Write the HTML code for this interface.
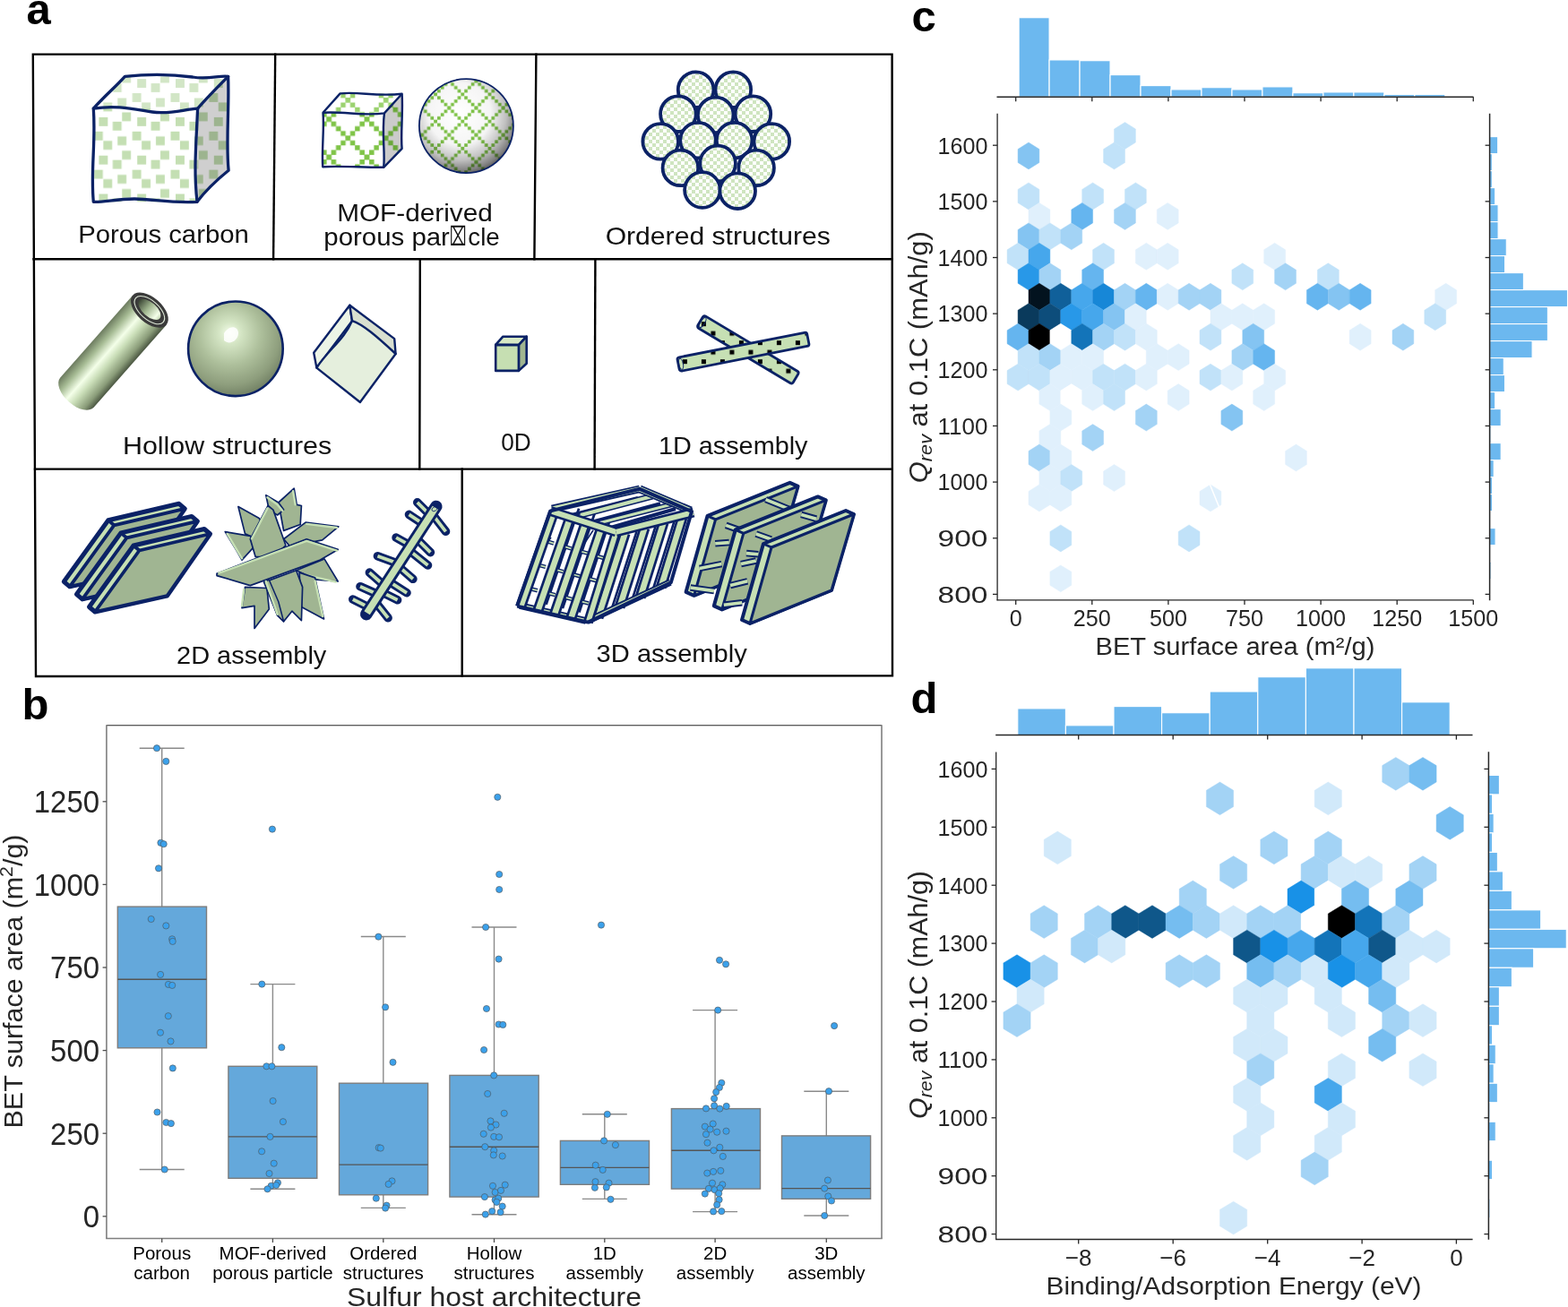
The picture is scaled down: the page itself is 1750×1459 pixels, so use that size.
<!DOCTYPE html>
<html><head><meta charset="utf-8"><title>Sulfur host architecture</title>
<style>html,body{margin:0;padding:0;background:#fff;}svg{display:block;}</style>
</head><body>
<svg width="1750" height="1459" viewBox="0 0 1750 1459" font-family="'Liberation Sans', Arial, sans-serif">
<rect width="1750" height="1459" fill="#ffffff"/>
<text x="29.5" y="26.5" font-size="49" font-weight="bold" fill="#000">a</text>
<text x="24.5" y="803" font-size="49" font-weight="bold" fill="#000">b</text>
<text x="1017.5" y="34.5" font-size="49" font-weight="bold" fill="#000">c</text>
<text x="1016.5" y="796" font-size="49" font-weight="bold" fill="#000">d</text>
<rect x="1137.10" y="19.70" width="33.98" height="88.50" fill="#6cb8ef" stroke="#fff" stroke-width="1.1"/>
<rect x="1171.08" y="66.90" width="33.98" height="41.30" fill="#6cb8ef" stroke="#fff" stroke-width="1.1"/>
<rect x="1205.06" y="67.70" width="33.98" height="40.50" fill="#6cb8ef" stroke="#fff" stroke-width="1.1"/>
<rect x="1239.04" y="83.60" width="33.98" height="24.60" fill="#6cb8ef" stroke="#fff" stroke-width="1.1"/>
<rect x="1273.02" y="95.60" width="33.98" height="12.60" fill="#6cb8ef" stroke="#fff" stroke-width="1.1"/>
<rect x="1307.00" y="99.90" width="33.98" height="8.30" fill="#6cb8ef" stroke="#fff" stroke-width="1.1"/>
<rect x="1340.98" y="97.70" width="33.98" height="10.50" fill="#6cb8ef" stroke="#fff" stroke-width="1.1"/>
<rect x="1374.96" y="99.90" width="33.98" height="8.30" fill="#6cb8ef" stroke="#fff" stroke-width="1.1"/>
<rect x="1408.94" y="96.90" width="33.98" height="11.30" fill="#6cb8ef" stroke="#fff" stroke-width="1.1"/>
<rect x="1442.92" y="103.70" width="33.98" height="4.50" fill="#6cb8ef" stroke="#fff" stroke-width="1.1"/>
<rect x="1476.90" y="102.90" width="33.98" height="5.30" fill="#6cb8ef" stroke="#fff" stroke-width="1.1"/>
<rect x="1510.88" y="102.90" width="33.98" height="5.30" fill="#6cb8ef" stroke="#fff" stroke-width="1.1"/>
<rect x="1544.86" y="105.40" width="33.98" height="2.80" fill="#6cb8ef" stroke="#fff" stroke-width="1.1"/>
<rect x="1578.84" y="105.40" width="33.98" height="2.80" fill="#6cb8ef" stroke="#fff" stroke-width="1.1"/>
<line x1="1112.5" y1="108.2" x2="1644.5" y2="108.2" stroke="#262626" stroke-width="1.5"/>
<line x1="1133.7" y1="108.2" x2="1133.7" y2="113.2" stroke="#262626" stroke-width="1.3"/>
<line x1="1218.8" y1="108.2" x2="1218.8" y2="113.2" stroke="#262626" stroke-width="1.3"/>
<line x1="1303.9" y1="108.2" x2="1303.9" y2="113.2" stroke="#262626" stroke-width="1.3"/>
<line x1="1389.0" y1="108.2" x2="1389.0" y2="113.2" stroke="#262626" stroke-width="1.3"/>
<line x1="1474.1" y1="108.2" x2="1474.1" y2="113.2" stroke="#262626" stroke-width="1.3"/>
<line x1="1559.2" y1="108.2" x2="1559.2" y2="113.2" stroke="#262626" stroke-width="1.3"/>
<line x1="1644.3" y1="108.2" x2="1644.3" y2="113.2" stroke="#262626" stroke-width="1.3"/>
<rect x="1662.6" y="152.60" width="9.10" height="19.00" fill="#6cb8ef" stroke="#fff" stroke-width="1.1"/>
<rect x="1662.6" y="171.60" width="2.80" height="19.00" fill="#6cb8ef" stroke="#fff" stroke-width="1.1"/>
<rect x="1662.6" y="190.60" width="2.80" height="19.00" fill="#6cb8ef" stroke="#fff" stroke-width="1.1"/>
<rect x="1662.6" y="209.60" width="6.10" height="19.00" fill="#6cb8ef" stroke="#fff" stroke-width="1.1"/>
<rect x="1662.6" y="228.60" width="9.50" height="19.00" fill="#6cb8ef" stroke="#fff" stroke-width="1.1"/>
<rect x="1662.6" y="247.60" width="9.50" height="19.00" fill="#6cb8ef" stroke="#fff" stroke-width="1.1"/>
<rect x="1662.6" y="266.60" width="18.70" height="19.00" fill="#6cb8ef" stroke="#fff" stroke-width="1.1"/>
<rect x="1662.6" y="285.60" width="17.00" height="19.00" fill="#6cb8ef" stroke="#fff" stroke-width="1.1"/>
<rect x="1662.6" y="304.60" width="37.80" height="19.00" fill="#6cb8ef" stroke="#fff" stroke-width="1.1"/>
<rect x="1662.6" y="323.60" width="86.90" height="19.00" fill="#6cb8ef" stroke="#fff" stroke-width="1.1"/>
<rect x="1662.6" y="342.60" width="64.80" height="19.00" fill="#6cb8ef" stroke="#fff" stroke-width="1.1"/>
<rect x="1662.6" y="361.60" width="64.80" height="19.00" fill="#6cb8ef" stroke="#fff" stroke-width="1.1"/>
<rect x="1662.6" y="380.60" width="47.50" height="19.00" fill="#6cb8ef" stroke="#fff" stroke-width="1.1"/>
<rect x="1662.6" y="399.60" width="15.70" height="19.00" fill="#6cb8ef" stroke="#fff" stroke-width="1.1"/>
<rect x="1662.6" y="418.60" width="16.90" height="19.00" fill="#6cb8ef" stroke="#fff" stroke-width="1.1"/>
<rect x="1662.6" y="437.60" width="6.10" height="19.00" fill="#6cb8ef" stroke="#fff" stroke-width="1.1"/>
<rect x="1662.6" y="456.60" width="12.60" height="19.00" fill="#6cb8ef" stroke="#fff" stroke-width="1.1"/>
<rect x="1662.6" y="475.60" width="1.30" height="19.00" fill="#6cb8ef" stroke="#fff" stroke-width="1.1"/>
<rect x="1662.6" y="494.60" width="12.60" height="19.00" fill="#6cb8ef" stroke="#fff" stroke-width="1.1"/>
<rect x="1662.6" y="513.60" width="4.60" height="19.00" fill="#6cb8ef" stroke="#fff" stroke-width="1.1"/>
<rect x="1662.6" y="532.60" width="3.00" height="19.00" fill="#6cb8ef" stroke="#fff" stroke-width="1.1"/>
<rect x="1662.6" y="551.60" width="3.00" height="19.00" fill="#6cb8ef" stroke="#fff" stroke-width="1.1"/>
<rect x="1662.6" y="589.60" width="6.50" height="19.00" fill="#6cb8ef" stroke="#fff" stroke-width="1.1"/>
<rect x="1662.6" y="627.60" width="1.40" height="19.00" fill="#6cb8ef" stroke="#fff" stroke-width="1.1"/>
<line x1="1662.6" y1="126.7" x2="1662.6" y2="670.3" stroke="#262626" stroke-width="1.5"/>
<line x1="1657.6" y1="162.2" x2="1662.6" y2="162.2" stroke="#262626" stroke-width="1.3"/>
<line x1="1657.6" y1="224.85" x2="1662.6" y2="224.85" stroke="#262626" stroke-width="1.3"/>
<line x1="1657.6" y1="287.5" x2="1662.6" y2="287.5" stroke="#262626" stroke-width="1.3"/>
<line x1="1657.6" y1="350.15" x2="1662.6" y2="350.15" stroke="#262626" stroke-width="1.3"/>
<line x1="1657.6" y1="412.79999999999995" x2="1662.6" y2="412.79999999999995" stroke="#262626" stroke-width="1.3"/>
<line x1="1657.6" y1="475.45" x2="1662.6" y2="475.45" stroke="#262626" stroke-width="1.3"/>
<line x1="1657.6" y1="538.0999999999999" x2="1662.6" y2="538.0999999999999" stroke="#262626" stroke-width="1.3"/>
<line x1="1657.6" y1="600.75" x2="1662.6" y2="600.75" stroke="#262626" stroke-width="1.3"/>
<line x1="1657.6" y1="663.4" x2="1662.6" y2="663.4" stroke="#262626" stroke-width="1.3"/>
<polygon points="1255.5,136.5 1267.4,144.0 1267.4,159.0 1255.5,166.5 1243.5,159.0 1243.5,144.0" fill="#c1e2f9" stroke="#c1e2f9" stroke-width="0.45"/>
<polygon points="1148.0,159.0 1159.9,166.5 1159.9,181.5 1148.0,188.9 1136.1,181.5 1136.1,166.5" fill="#84c4f2" stroke="#84c4f2" stroke-width="0.45"/>
<polygon points="1243.5,159.0 1255.5,166.5 1255.5,181.5 1243.5,188.9 1231.6,181.5 1231.6,166.5" fill="#c1e2f9" stroke="#c1e2f9" stroke-width="0.45"/>
<polygon points="1148.0,203.9 1159.9,211.4 1159.9,226.4 1148.0,233.9 1136.1,226.4 1136.1,211.4" fill="#c1e2f9" stroke="#c1e2f9" stroke-width="0.45"/>
<polygon points="1219.6,203.9 1231.6,211.4 1231.6,226.4 1219.6,233.9 1207.7,226.4 1207.7,211.4" fill="#c1e2f9" stroke="#c1e2f9" stroke-width="0.45"/>
<polygon points="1267.4,203.9 1279.3,211.4 1279.3,226.4 1267.4,233.9 1255.5,226.4 1255.5,211.4" fill="#c1e2f9" stroke="#c1e2f9" stroke-width="0.45"/>
<polygon points="1159.9,226.4 1171.9,233.9 1171.9,248.9 1159.9,256.4 1148.0,248.9 1148.0,233.9" fill="#e0f0fc" stroke="#e0f0fc" stroke-width="0.45"/>
<polygon points="1207.7,226.4 1219.6,233.9 1219.6,248.9 1207.7,256.4 1195.8,248.9 1195.8,233.9" fill="#65b5ef" stroke="#65b5ef" stroke-width="0.45"/>
<polygon points="1255.5,226.4 1267.4,233.9 1267.4,248.9 1255.5,256.4 1243.5,248.9 1243.5,233.9" fill="#a3d3f5" stroke="#a3d3f5" stroke-width="0.45"/>
<polygon points="1303.2,226.4 1315.2,233.9 1315.2,248.9 1303.2,256.4 1291.3,248.9 1291.3,233.9" fill="#e0f0fc" stroke="#e0f0fc" stroke-width="0.45"/>
<polygon points="1148.0,248.9 1159.9,256.4 1159.9,271.3 1148.0,278.8 1136.1,271.3 1136.1,256.4" fill="#84c4f2" stroke="#84c4f2" stroke-width="0.45"/>
<polygon points="1171.9,248.9 1183.8,256.4 1183.8,271.3 1171.9,278.8 1159.9,271.3 1159.9,256.4" fill="#c1e2f9" stroke="#c1e2f9" stroke-width="0.45"/>
<polygon points="1195.8,248.9 1207.7,256.4 1207.7,271.3 1195.8,278.8 1183.8,271.3 1183.8,256.4" fill="#a3d3f5" stroke="#a3d3f5" stroke-width="0.45"/>
<polygon points="1136.1,271.3 1148.0,278.8 1148.0,293.8 1136.1,301.3 1124.1,293.8 1124.1,278.8" fill="#c1e2f9" stroke="#c1e2f9" stroke-width="0.45"/>
<polygon points="1159.9,271.3 1171.9,278.8 1171.9,293.8 1159.9,301.3 1148.0,293.8 1148.0,278.8" fill="#46a7ec" stroke="#46a7ec" stroke-width="0.45"/>
<polygon points="1231.6,271.3 1243.5,278.8 1243.5,293.8 1231.6,301.3 1219.6,293.8 1219.6,278.8" fill="#c1e2f9" stroke="#c1e2f9" stroke-width="0.45"/>
<polygon points="1279.3,271.3 1291.3,278.8 1291.3,293.8 1279.3,301.3 1267.4,293.8 1267.4,278.8" fill="#e0f0fc" stroke="#e0f0fc" stroke-width="0.45"/>
<polygon points="1303.2,271.3 1315.2,278.8 1315.2,293.8 1303.2,301.3 1291.3,293.8 1291.3,278.8" fill="#e0f0fc" stroke="#e0f0fc" stroke-width="0.45"/>
<polygon points="1422.6,271.3 1434.6,278.8 1434.6,293.8 1422.6,301.3 1410.7,293.8 1410.7,278.8" fill="#e0f0fc" stroke="#e0f0fc" stroke-width="0.45"/>
<polygon points="1148.0,293.8 1159.9,301.3 1159.9,316.3 1148.0,323.8 1136.1,316.3 1136.1,301.3" fill="#2898e8" stroke="#2898e8" stroke-width="0.45"/>
<polygon points="1171.9,293.8 1183.8,301.3 1183.8,316.3 1171.9,323.8 1159.9,316.3 1159.9,301.3" fill="#a3d3f5" stroke="#a3d3f5" stroke-width="0.45"/>
<polygon points="1219.6,293.8 1231.6,301.3 1231.6,316.3 1219.6,323.8 1207.7,316.3 1207.7,301.3" fill="#65b5ef" stroke="#65b5ef" stroke-width="0.45"/>
<polygon points="1386.8,293.8 1398.7,301.3 1398.7,316.3 1386.8,323.8 1374.9,316.3 1374.9,301.3" fill="#c1e2f9" stroke="#c1e2f9" stroke-width="0.45"/>
<polygon points="1434.6,293.8 1446.5,301.3 1446.5,316.3 1434.6,323.8 1422.6,316.3 1422.6,301.3" fill="#a3d3f5" stroke="#a3d3f5" stroke-width="0.45"/>
<polygon points="1482.3,293.8 1494.3,301.3 1494.3,316.3 1482.3,323.8 1470.4,316.3 1470.4,301.3" fill="#c1e2f9" stroke="#c1e2f9" stroke-width="0.45"/>
<polygon points="1159.9,316.3 1171.9,323.8 1171.9,338.8 1159.9,346.2 1148.0,338.8 1148.0,323.8" fill="#03131f" stroke="#03131f" stroke-width="0.45"/>
<polygon points="1183.8,316.3 1195.8,323.8 1195.8,338.8 1183.8,346.2 1171.9,338.8 1171.9,323.8" fill="#10609a" stroke="#10609a" stroke-width="0.45"/>
<polygon points="1207.7,316.3 1219.6,323.8 1219.6,338.8 1207.7,346.2 1195.8,338.8 1195.8,323.8" fill="#46a7ec" stroke="#46a7ec" stroke-width="0.45"/>
<polygon points="1231.6,316.3 1243.5,323.8 1243.5,338.8 1231.6,346.2 1219.6,338.8 1219.6,323.8" fill="#1787d7" stroke="#1787d7" stroke-width="0.45"/>
<polygon points="1255.5,316.3 1267.4,323.8 1267.4,338.8 1255.5,346.2 1243.5,338.8 1243.5,323.8" fill="#a3d3f5" stroke="#a3d3f5" stroke-width="0.45"/>
<polygon points="1279.3,316.3 1291.3,323.8 1291.3,338.8 1279.3,346.2 1267.4,338.8 1267.4,323.8" fill="#65b5ef" stroke="#65b5ef" stroke-width="0.45"/>
<polygon points="1303.2,316.3 1315.2,323.8 1315.2,338.8 1303.2,346.2 1291.3,338.8 1291.3,323.8" fill="#e0f0fc" stroke="#e0f0fc" stroke-width="0.45"/>
<polygon points="1327.1,316.3 1339.0,323.8 1339.0,338.8 1327.1,346.2 1315.2,338.8 1315.2,323.8" fill="#a3d3f5" stroke="#a3d3f5" stroke-width="0.45"/>
<polygon points="1351.0,316.3 1362.9,323.8 1362.9,338.8 1351.0,346.2 1339.0,338.8 1339.0,323.8" fill="#a3d3f5" stroke="#a3d3f5" stroke-width="0.45"/>
<polygon points="1470.4,316.3 1482.3,323.8 1482.3,338.8 1470.4,346.2 1458.4,338.8 1458.4,323.8" fill="#65b5ef" stroke="#65b5ef" stroke-width="0.45"/>
<polygon points="1494.3,316.3 1506.2,323.8 1506.2,338.8 1494.3,346.2 1482.3,338.8 1482.3,323.8" fill="#84c4f2" stroke="#84c4f2" stroke-width="0.45"/>
<polygon points="1518.1,316.3 1530.1,323.8 1530.1,338.8 1518.1,346.2 1506.2,338.8 1506.2,323.8" fill="#65b5ef" stroke="#65b5ef" stroke-width="0.45"/>
<polygon points="1613.7,316.3 1625.6,323.8 1625.6,338.8 1613.7,346.2 1601.7,338.8 1601.7,323.8" fill="#e0f0fc" stroke="#e0f0fc" stroke-width="0.45"/>
<polygon points="1148.0,338.8 1159.9,346.2 1159.9,361.2 1148.0,368.7 1136.1,361.2 1136.1,346.2" fill="#0a3a5c" stroke="#0a3a5c" stroke-width="0.45"/>
<polygon points="1171.9,338.8 1183.8,346.2 1183.8,361.2 1171.9,368.7 1159.9,361.2 1159.9,346.2" fill="#0d4d7b" stroke="#0d4d7b" stroke-width="0.45"/>
<polygon points="1195.8,338.8 1207.7,346.2 1207.7,361.2 1195.8,368.7 1183.8,361.2 1183.8,346.2" fill="#2898e8" stroke="#2898e8" stroke-width="0.45"/>
<polygon points="1219.6,338.8 1231.6,346.2 1231.6,361.2 1219.6,368.7 1207.7,361.2 1207.7,346.2" fill="#46a7ec" stroke="#46a7ec" stroke-width="0.45"/>
<polygon points="1243.5,338.8 1255.5,346.2 1255.5,361.2 1243.5,368.7 1231.6,361.2 1231.6,346.2" fill="#84c4f2" stroke="#84c4f2" stroke-width="0.45"/>
<polygon points="1267.4,338.8 1279.3,346.2 1279.3,361.2 1267.4,368.7 1255.5,361.2 1255.5,346.2" fill="#e0f0fc" stroke="#e0f0fc" stroke-width="0.45"/>
<polygon points="1362.9,338.8 1374.9,346.2 1374.9,361.2 1362.9,368.7 1351.0,361.2 1351.0,346.2" fill="#e0f0fc" stroke="#e0f0fc" stroke-width="0.45"/>
<polygon points="1386.8,338.8 1398.7,346.2 1398.7,361.2 1386.8,368.7 1374.9,361.2 1374.9,346.2" fill="#e0f0fc" stroke="#e0f0fc" stroke-width="0.45"/>
<polygon points="1410.7,338.8 1422.6,346.2 1422.6,361.2 1410.7,368.7 1398.7,361.2 1398.7,346.2" fill="#e0f0fc" stroke="#e0f0fc" stroke-width="0.45"/>
<polygon points="1601.7,338.8 1613.7,346.2 1613.7,361.2 1601.7,368.7 1589.8,361.2 1589.8,346.2" fill="#c1e2f9" stroke="#c1e2f9" stroke-width="0.45"/>
<polygon points="1136.1,361.2 1148.0,368.7 1148.0,383.7 1136.1,391.2 1124.1,383.7 1124.1,368.7" fill="#65b5ef" stroke="#65b5ef" stroke-width="0.45"/>
<polygon points="1159.9,361.2 1171.9,368.7 1171.9,383.7 1159.9,391.2 1148.0,383.7 1148.0,368.7" fill="#000000" stroke="#000000" stroke-width="0.45"/>
<polygon points="1183.8,361.2 1195.8,368.7 1195.8,383.7 1183.8,391.2 1171.9,383.7 1171.9,368.7" fill="#ffffff" stroke="#ffffff" stroke-width="0.45"/>
<polygon points="1207.7,361.2 1219.6,368.7 1219.6,383.7 1207.7,391.2 1195.8,383.7 1195.8,368.7" fill="#1374b9" stroke="#1374b9" stroke-width="0.45"/>
<polygon points="1231.6,361.2 1243.5,368.7 1243.5,383.7 1231.6,391.2 1219.6,383.7 1219.6,368.7" fill="#a3d3f5" stroke="#a3d3f5" stroke-width="0.45"/>
<polygon points="1255.5,361.2 1267.4,368.7 1267.4,383.7 1255.5,391.2 1243.5,383.7 1243.5,368.7" fill="#c1e2f9" stroke="#c1e2f9" stroke-width="0.45"/>
<polygon points="1279.3,361.2 1291.3,368.7 1291.3,383.7 1279.3,391.2 1267.4,383.7 1267.4,368.7" fill="#e0f0fc" stroke="#e0f0fc" stroke-width="0.45"/>
<polygon points="1351.0,361.2 1362.9,368.7 1362.9,383.7 1351.0,391.2 1339.0,383.7 1339.0,368.7" fill="#c1e2f9" stroke="#c1e2f9" stroke-width="0.45"/>
<polygon points="1398.7,361.2 1410.7,368.7 1410.7,383.7 1398.7,391.2 1386.8,383.7 1386.8,368.7" fill="#84c4f2" stroke="#84c4f2" stroke-width="0.45"/>
<polygon points="1518.1,361.2 1530.1,368.7 1530.1,383.7 1518.1,391.2 1506.2,383.7 1506.2,368.7" fill="#e0f0fc" stroke="#e0f0fc" stroke-width="0.45"/>
<polygon points="1565.9,361.2 1577.8,368.7 1577.8,383.7 1565.9,391.2 1554.0,383.7 1554.0,368.7" fill="#a3d3f5" stroke="#a3d3f5" stroke-width="0.45"/>
<polygon points="1148.0,383.7 1159.9,391.2 1159.9,406.2 1148.0,413.6 1136.1,406.2 1136.1,391.2" fill="#c1e2f9" stroke="#c1e2f9" stroke-width="0.45"/>
<polygon points="1171.9,383.7 1183.8,391.2 1183.8,406.2 1171.9,413.6 1159.9,406.2 1159.9,391.2" fill="#a3d3f5" stroke="#a3d3f5" stroke-width="0.45"/>
<polygon points="1195.8,383.7 1207.7,391.2 1207.7,406.2 1195.8,413.6 1183.8,406.2 1183.8,391.2" fill="#e0f0fc" stroke="#e0f0fc" stroke-width="0.45"/>
<polygon points="1219.6,383.7 1231.6,391.2 1231.6,406.2 1219.6,413.6 1207.7,406.2 1207.7,391.2" fill="#e0f0fc" stroke="#e0f0fc" stroke-width="0.45"/>
<polygon points="1291.3,383.7 1303.2,391.2 1303.2,406.2 1291.3,413.6 1279.3,406.2 1279.3,391.2" fill="#e0f0fc" stroke="#e0f0fc" stroke-width="0.45"/>
<polygon points="1315.2,383.7 1327.1,391.2 1327.1,406.2 1315.2,413.6 1303.2,406.2 1303.2,391.2" fill="#e0f0fc" stroke="#e0f0fc" stroke-width="0.45"/>
<polygon points="1386.8,383.7 1398.7,391.2 1398.7,406.2 1386.8,413.6 1374.9,406.2 1374.9,391.2" fill="#a3d3f5" stroke="#a3d3f5" stroke-width="0.45"/>
<polygon points="1410.7,383.7 1422.6,391.2 1422.6,406.2 1410.7,413.6 1398.7,406.2 1398.7,391.2" fill="#65b5ef" stroke="#65b5ef" stroke-width="0.45"/>
<polygon points="1136.1,406.2 1148.0,413.6 1148.0,428.6 1136.1,436.1 1124.1,428.6 1124.1,413.6" fill="#c1e2f9" stroke="#c1e2f9" stroke-width="0.45"/>
<polygon points="1159.9,406.2 1171.9,413.6 1171.9,428.6 1159.9,436.1 1148.0,428.6 1148.0,413.6" fill="#c1e2f9" stroke="#c1e2f9" stroke-width="0.45"/>
<polygon points="1183.8,406.2 1195.8,413.6 1195.8,428.6 1183.8,436.1 1171.9,428.6 1171.9,413.6" fill="#e0f0fc" stroke="#e0f0fc" stroke-width="0.45"/>
<polygon points="1207.7,406.2 1219.6,413.6 1219.6,428.6 1207.7,436.1 1195.8,428.6 1195.8,413.6" fill="#e0f0fc" stroke="#e0f0fc" stroke-width="0.45"/>
<polygon points="1231.6,406.2 1243.5,413.6 1243.5,428.6 1231.6,436.1 1219.6,428.6 1219.6,413.6" fill="#c1e2f9" stroke="#c1e2f9" stroke-width="0.45"/>
<polygon points="1255.5,406.2 1267.4,413.6 1267.4,428.6 1255.5,436.1 1243.5,428.6 1243.5,413.6" fill="#c1e2f9" stroke="#c1e2f9" stroke-width="0.45"/>
<polygon points="1279.3,406.2 1291.3,413.6 1291.3,428.6 1279.3,436.1 1267.4,428.6 1267.4,413.6" fill="#e0f0fc" stroke="#e0f0fc" stroke-width="0.45"/>
<polygon points="1351.0,406.2 1362.9,413.6 1362.9,428.6 1351.0,436.1 1339.0,428.6 1339.0,413.6" fill="#c1e2f9" stroke="#c1e2f9" stroke-width="0.45"/>
<polygon points="1374.9,406.2 1386.8,413.6 1386.8,428.6 1374.9,436.1 1362.9,428.6 1362.9,413.6" fill="#e0f0fc" stroke="#e0f0fc" stroke-width="0.45"/>
<polygon points="1422.6,406.2 1434.6,413.6 1434.6,428.6 1422.6,436.1 1410.7,428.6 1410.7,413.6" fill="#e0f0fc" stroke="#e0f0fc" stroke-width="0.45"/>
<polygon points="1171.9,428.6 1183.8,436.1 1183.8,451.1 1171.9,458.6 1159.9,451.1 1159.9,436.1" fill="#e0f0fc" stroke="#e0f0fc" stroke-width="0.45"/>
<polygon points="1195.8,428.6 1207.7,436.1 1207.7,451.1 1195.8,458.6 1183.8,451.1 1183.8,436.1" fill="#ffffff" stroke="#ffffff" stroke-width="0.45"/>
<polygon points="1219.6,428.6 1231.6,436.1 1231.6,451.1 1219.6,458.6 1207.7,451.1 1207.7,436.1" fill="#e0f0fc" stroke="#e0f0fc" stroke-width="0.45"/>
<polygon points="1243.5,428.6 1255.5,436.1 1255.5,451.1 1243.5,458.6 1231.6,451.1 1231.6,436.1" fill="#c1e2f9" stroke="#c1e2f9" stroke-width="0.45"/>
<polygon points="1315.2,428.6 1327.1,436.1 1327.1,451.1 1315.2,458.6 1303.2,451.1 1303.2,436.1" fill="#e0f0fc" stroke="#e0f0fc" stroke-width="0.45"/>
<polygon points="1410.7,428.6 1422.6,436.1 1422.6,451.1 1410.7,458.6 1398.7,451.1 1398.7,436.1" fill="#e0f0fc" stroke="#e0f0fc" stroke-width="0.45"/>
<polygon points="1183.8,451.1 1195.8,458.6 1195.8,473.6 1183.8,481.1 1171.9,473.6 1171.9,458.6" fill="#e0f0fc" stroke="#e0f0fc" stroke-width="0.45"/>
<polygon points="1279.3,451.1 1291.3,458.6 1291.3,473.6 1279.3,481.1 1267.4,473.6 1267.4,458.6" fill="#a3d3f5" stroke="#a3d3f5" stroke-width="0.45"/>
<polygon points="1374.9,451.1 1386.8,458.6 1386.8,473.6 1374.9,481.1 1362.9,473.6 1362.9,458.6" fill="#84c4f2" stroke="#84c4f2" stroke-width="0.45"/>
<polygon points="1171.9,473.6 1183.8,481.1 1183.8,496.0 1171.9,503.5 1159.9,496.0 1159.9,481.1" fill="#e0f0fc" stroke="#e0f0fc" stroke-width="0.45"/>
<polygon points="1219.6,473.6 1231.6,481.1 1231.6,496.0 1219.6,503.5 1207.7,496.0 1207.7,481.1" fill="#a3d3f5" stroke="#a3d3f5" stroke-width="0.45"/>
<polygon points="1159.9,496.0 1171.9,503.5 1171.9,518.5 1159.9,526.0 1148.0,518.5 1148.0,503.5" fill="#a3d3f5" stroke="#a3d3f5" stroke-width="0.45"/>
<polygon points="1183.8,496.0 1195.8,503.5 1195.8,518.5 1183.8,526.0 1171.9,518.5 1171.9,503.5" fill="#e0f0fc" stroke="#e0f0fc" stroke-width="0.45"/>
<polygon points="1446.5,496.0 1458.4,503.5 1458.4,518.5 1446.5,526.0 1434.6,518.5 1434.6,503.5" fill="#e0f0fc" stroke="#e0f0fc" stroke-width="0.45"/>
<polygon points="1171.9,518.5 1183.8,526.0 1183.8,541.0 1171.9,548.5 1159.9,541.0 1159.9,526.0" fill="#e0f0fc" stroke="#e0f0fc" stroke-width="0.45"/>
<polygon points="1195.8,518.5 1207.7,526.0 1207.7,541.0 1195.8,548.5 1183.8,541.0 1183.8,526.0" fill="#c1e2f9" stroke="#c1e2f9" stroke-width="0.45"/>
<polygon points="1243.5,518.5 1255.5,526.0 1255.5,541.0 1243.5,548.5 1231.6,541.0 1231.6,526.0" fill="#e0f0fc" stroke="#e0f0fc" stroke-width="0.45"/>
<polygon points="1159.9,541.0 1171.9,548.5 1171.9,563.5 1159.9,570.9 1148.0,563.5 1148.0,548.5" fill="#e0f0fc" stroke="#e0f0fc" stroke-width="0.45"/>
<polygon points="1183.8,541.0 1195.8,548.5 1195.8,563.5 1183.8,570.9 1171.9,563.5 1171.9,548.5" fill="#e0f0fc" stroke="#e0f0fc" stroke-width="0.45"/>
<polygon points="1351.0,541.0 1362.9,548.5 1362.9,563.5 1351.0,570.9 1339.0,563.5 1339.0,548.5" fill="#e0f0fc" stroke="#e0f0fc" stroke-width="0.45"/>
<polygon points="1183.8,585.9 1195.8,593.4 1195.8,608.4 1183.8,615.9 1171.9,608.4 1171.9,593.4" fill="#c1e2f9" stroke="#c1e2f9" stroke-width="0.45"/>
<polygon points="1327.1,585.9 1339.0,593.4 1339.0,608.4 1327.1,615.9 1315.2,608.4 1315.2,593.4" fill="#c1e2f9" stroke="#c1e2f9" stroke-width="0.45"/>
<polygon points="1183.8,630.9 1195.8,638.3 1195.8,653.3 1183.8,660.8 1171.9,653.3 1171.9,638.3" fill="#e0f0fc" stroke="#e0f0fc" stroke-width="0.45"/>
<line x1="1350.2" y1="540.5" x2="1360.6" y2="566" stroke="#ffffff" stroke-width="1.5"/>
<line x1="1113.1" y1="126.7" x2="1113.1" y2="670.3" stroke="#262626" stroke-width="1.3"/>
<line x1="1112.5" y1="669.9" x2="1644.5" y2="669.9" stroke="#262626" stroke-width="1.3"/>
<line x1="1108" y1="162.2" x2="1113.1" y2="162.2" stroke="#262626" stroke-width="1.3"/>
<text x="1102.5" y="171.5" font-size="26" text-anchor="end" textLength="55.9" lengthAdjust="spacingAndGlyphs" fill="#262626">1600</text>
<line x1="1108" y1="224.85" x2="1113.1" y2="224.85" stroke="#262626" stroke-width="1.3"/>
<text x="1102.5" y="234.15" font-size="26" text-anchor="end" textLength="55.9" lengthAdjust="spacingAndGlyphs" fill="#262626">1500</text>
<line x1="1108" y1="287.5" x2="1113.1" y2="287.5" stroke="#262626" stroke-width="1.3"/>
<text x="1102.5" y="296.8" font-size="26" text-anchor="end" textLength="55.9" lengthAdjust="spacingAndGlyphs" fill="#262626">1400</text>
<line x1="1108" y1="350.15" x2="1113.1" y2="350.15" stroke="#262626" stroke-width="1.3"/>
<text x="1102.5" y="359.45" font-size="26" text-anchor="end" textLength="55.9" lengthAdjust="spacingAndGlyphs" fill="#262626">1300</text>
<line x1="1108" y1="412.79999999999995" x2="1113.1" y2="412.79999999999995" stroke="#262626" stroke-width="1.3"/>
<text x="1102.5" y="422.09999999999997" font-size="26" text-anchor="end" textLength="55.9" lengthAdjust="spacingAndGlyphs" fill="#262626">1200</text>
<line x1="1108" y1="475.45" x2="1113.1" y2="475.45" stroke="#262626" stroke-width="1.3"/>
<text x="1102.5" y="484.75" font-size="26" text-anchor="end" textLength="55.9" lengthAdjust="spacingAndGlyphs" fill="#262626">1100</text>
<line x1="1108" y1="538.0999999999999" x2="1113.1" y2="538.0999999999999" stroke="#262626" stroke-width="1.3"/>
<text x="1102.5" y="547.3999999999999" font-size="26" text-anchor="end" textLength="55.9" lengthAdjust="spacingAndGlyphs" fill="#262626">1000</text>
<line x1="1108" y1="600.75" x2="1113.1" y2="600.75" stroke="#262626" stroke-width="1.3"/>
<text x="1102.5" y="610.05" font-size="26" text-anchor="end" textLength="55.9" lengthAdjust="spacingAndGlyphs" fill="#262626">900</text>
<line x1="1108" y1="663.4" x2="1113.1" y2="663.4" stroke="#262626" stroke-width="1.3"/>
<text x="1102.5" y="672.6999999999999" font-size="26" text-anchor="end" textLength="55.9" lengthAdjust="spacingAndGlyphs" fill="#262626">800</text>
<line x1="1133.7" y1="669.9" x2="1133.7" y2="675" stroke="#262626" stroke-width="1.3"/>
<text x="1133.7" y="698.9" font-size="26" text-anchor="middle" textLength="14.0" lengthAdjust="spacingAndGlyphs" fill="#262626">0</text>
<line x1="1218.8" y1="669.9" x2="1218.8" y2="675" stroke="#262626" stroke-width="1.3"/>
<text x="1218.8" y="698.9" font-size="26" text-anchor="middle" textLength="42.0" lengthAdjust="spacingAndGlyphs" fill="#262626">250</text>
<line x1="1303.9" y1="669.9" x2="1303.9" y2="675" stroke="#262626" stroke-width="1.3"/>
<text x="1303.9" y="698.9" font-size="26" text-anchor="middle" textLength="42.0" lengthAdjust="spacingAndGlyphs" fill="#262626">500</text>
<line x1="1389.0" y1="669.9" x2="1389.0" y2="675" stroke="#262626" stroke-width="1.3"/>
<text x="1389.0" y="698.9" font-size="26" text-anchor="middle" textLength="42.0" lengthAdjust="spacingAndGlyphs" fill="#262626">750</text>
<line x1="1474.1" y1="669.9" x2="1474.1" y2="675" stroke="#262626" stroke-width="1.3"/>
<text x="1474.1" y="698.9" font-size="26" text-anchor="middle" textLength="56.0" lengthAdjust="spacingAndGlyphs" fill="#262626">1000</text>
<line x1="1559.2" y1="669.9" x2="1559.2" y2="675" stroke="#262626" stroke-width="1.3"/>
<text x="1559.2" y="698.9" font-size="26" text-anchor="middle" textLength="56.0" lengthAdjust="spacingAndGlyphs" fill="#262626">1250</text>
<line x1="1644.3" y1="669.9" x2="1644.3" y2="675" stroke="#262626" stroke-width="1.3"/>
<text x="1644.3" y="698.9" font-size="26" text-anchor="middle" textLength="56.0" lengthAdjust="spacingAndGlyphs" fill="#262626">1500</text>
<text x="1378.5" y="731.3" font-size="27.7" text-anchor="middle" textLength="312" lengthAdjust="spacingAndGlyphs" fill="#262626">BET surface area (m²/g)</text>
<text transform="translate(1034.5,398.7) rotate(-90)" font-size="29.2" text-anchor="middle" fill="#262626" textLength="281" lengthAdjust="spacingAndGlyphs"><tspan font-style="italic">Q</tspan><tspan font-style="italic" font-size="20.5" dy="5.6">rev</tspan><tspan dy="-5.6"> at 0.1C (mAh/g)</tspan></text>
<rect x="1135.80" y="790.90" width="53.60" height="29.70" fill="#6cb8ef" stroke="#fff" stroke-width="1.1"/>
<rect x="1189.40" y="809.80" width="53.60" height="10.80" fill="#6cb8ef" stroke="#fff" stroke-width="1.1"/>
<rect x="1243.00" y="788.60" width="53.60" height="32.00" fill="#6cb8ef" stroke="#fff" stroke-width="1.1"/>
<rect x="1296.60" y="795.70" width="53.60" height="24.90" fill="#6cb8ef" stroke="#fff" stroke-width="1.1"/>
<rect x="1350.20" y="772.00" width="53.60" height="48.60" fill="#6cb8ef" stroke="#fff" stroke-width="1.1"/>
<rect x="1403.80" y="755.70" width="53.60" height="64.90" fill="#6cb8ef" stroke="#fff" stroke-width="1.1"/>
<rect x="1457.40" y="745.80" width="53.60" height="74.80" fill="#6cb8ef" stroke="#fff" stroke-width="1.1"/>
<rect x="1511.00" y="745.80" width="53.60" height="74.80" fill="#6cb8ef" stroke="#fff" stroke-width="1.1"/>
<rect x="1564.60" y="783.80" width="53.60" height="36.80" fill="#6cb8ef" stroke="#fff" stroke-width="1.1"/>
<line x1="1111.2" y1="820.6" x2="1643.5" y2="820.6" stroke="#262626" stroke-width="1.5"/>
<line x1="1203.7" y1="820.6" x2="1203.7" y2="825.6" stroke="#262626" stroke-width="1.3"/>
<line x1="1309.2" y1="820.6" x2="1309.2" y2="825.6" stroke="#262626" stroke-width="1.3"/>
<line x1="1414.7" y1="820.6" x2="1414.7" y2="825.6" stroke="#262626" stroke-width="1.3"/>
<line x1="1520.1" y1="820.6" x2="1520.1" y2="825.6" stroke="#262626" stroke-width="1.3"/>
<line x1="1625.4" y1="820.6" x2="1625.4" y2="825.6" stroke="#262626" stroke-width="1.3"/>
<rect x="1661.4" y="865.40" width="12.00" height="21.49" fill="#6cb8ef" stroke="#fff" stroke-width="1.1"/>
<rect x="1661.4" y="886.89" width="4.20" height="21.49" fill="#6cb8ef" stroke="#fff" stroke-width="1.1"/>
<rect x="1661.4" y="908.38" width="5.80" height="21.49" fill="#6cb8ef" stroke="#fff" stroke-width="1.1"/>
<rect x="1661.4" y="929.87" width="4.20" height="21.49" fill="#6cb8ef" stroke="#fff" stroke-width="1.1"/>
<rect x="1661.4" y="951.36" width="10.00" height="21.49" fill="#6cb8ef" stroke="#fff" stroke-width="1.1"/>
<rect x="1661.4" y="972.85" width="16.10" height="21.49" fill="#6cb8ef" stroke="#fff" stroke-width="1.1"/>
<rect x="1661.4" y="994.34" width="26.00" height="21.49" fill="#6cb8ef" stroke="#fff" stroke-width="1.1"/>
<rect x="1661.4" y="1015.83" width="58.30" height="21.49" fill="#6cb8ef" stroke="#fff" stroke-width="1.1"/>
<rect x="1661.4" y="1037.32" width="86.90" height="21.49" fill="#6cb8ef" stroke="#fff" stroke-width="1.1"/>
<rect x="1661.4" y="1058.81" width="50.30" height="21.49" fill="#6cb8ef" stroke="#fff" stroke-width="1.1"/>
<rect x="1661.4" y="1080.30" width="26.00" height="21.49" fill="#6cb8ef" stroke="#fff" stroke-width="1.1"/>
<rect x="1661.4" y="1101.79" width="12.00" height="21.49" fill="#6cb8ef" stroke="#fff" stroke-width="1.1"/>
<rect x="1661.4" y="1123.28" width="12.00" height="21.49" fill="#6cb8ef" stroke="#fff" stroke-width="1.1"/>
<rect x="1661.4" y="1144.77" width="4.20" height="21.49" fill="#6cb8ef" stroke="#fff" stroke-width="1.1"/>
<rect x="1661.4" y="1166.26" width="7.90" height="21.49" fill="#6cb8ef" stroke="#fff" stroke-width="1.1"/>
<rect x="1661.4" y="1187.75" width="5.80" height="21.49" fill="#6cb8ef" stroke="#fff" stroke-width="1.1"/>
<rect x="1661.4" y="1209.24" width="10.00" height="21.49" fill="#6cb8ef" stroke="#fff" stroke-width="1.1"/>
<rect x="1661.4" y="1230.73" width="1.50" height="21.49" fill="#6cb8ef" stroke="#fff" stroke-width="1.1"/>
<rect x="1661.4" y="1252.22" width="7.90" height="21.49" fill="#6cb8ef" stroke="#fff" stroke-width="1.1"/>
<rect x="1661.4" y="1295.20" width="4.20" height="21.49" fill="#6cb8ef" stroke="#fff" stroke-width="1.1"/>
<rect x="1661.4" y="1338.18" width="1.50" height="21.49" fill="#6cb8ef" stroke="#fff" stroke-width="1.1"/>
<line x1="1661.4" y1="839.3" x2="1661.4" y2="1383.7" stroke="#262626" stroke-width="1.5"/>
<line x1="1656.4" y1="858.4" x2="1661.4" y2="858.4" stroke="#262626" stroke-width="1.3"/>
<line x1="1656.4" y1="923.3" x2="1661.4" y2="923.3" stroke="#262626" stroke-width="1.3"/>
<line x1="1656.4" y1="988.2" x2="1661.4" y2="988.2" stroke="#262626" stroke-width="1.3"/>
<line x1="1656.4" y1="1053.1" x2="1661.4" y2="1053.1" stroke="#262626" stroke-width="1.3"/>
<line x1="1656.4" y1="1118.0" x2="1661.4" y2="1118.0" stroke="#262626" stroke-width="1.3"/>
<line x1="1656.4" y1="1182.9" x2="1661.4" y2="1182.9" stroke="#262626" stroke-width="1.3"/>
<line x1="1656.4" y1="1247.8" x2="1661.4" y2="1247.8" stroke="#262626" stroke-width="1.3"/>
<line x1="1656.4" y1="1312.7" x2="1661.4" y2="1312.7" stroke="#262626" stroke-width="1.3"/>
<line x1="1656.4" y1="1377.6" x2="1661.4" y2="1377.6" stroke="#262626" stroke-width="1.3"/>
<polygon points="1557.8,845.4 1572.9,854.6 1572.9,873.0 1557.8,882.2 1542.7,873.0 1542.7,854.6" fill="#a3d3f5" stroke="#a3d3f5" stroke-width="0.45"/>
<polygon points="1588.0,845.4 1603.1,854.6 1603.1,873.0 1588.0,882.2 1572.9,873.0 1572.9,854.6" fill="#75bdf0" stroke="#75bdf0" stroke-width="0.45"/>
<polygon points="1361.5,873.0 1376.6,882.2 1376.6,900.5 1361.5,909.7 1346.4,900.5 1346.4,882.2" fill="#a3d3f5" stroke="#a3d3f5" stroke-width="0.45"/>
<polygon points="1482.3,873.0 1497.4,882.2 1497.4,900.5 1482.3,909.7 1467.2,900.5 1467.2,882.2" fill="#d1e9fa" stroke="#d1e9fa" stroke-width="0.45"/>
<polygon points="1618.2,900.5 1633.3,909.7 1633.3,928.1 1618.2,937.2 1603.1,928.1 1603.1,909.7" fill="#75bdf0" stroke="#75bdf0" stroke-width="0.45"/>
<polygon points="1180.3,928.1 1195.4,937.2 1195.4,955.6 1180.3,964.8 1165.2,955.6 1165.2,937.2" fill="#d1e9fa" stroke="#d1e9fa" stroke-width="0.45"/>
<polygon points="1421.9,928.1 1437.0,937.2 1437.0,955.6 1421.9,964.8 1406.8,955.6 1406.8,937.2" fill="#a3d3f5" stroke="#a3d3f5" stroke-width="0.45"/>
<polygon points="1482.3,928.1 1497.4,937.2 1497.4,955.6 1482.3,964.8 1467.2,955.6 1467.2,937.2" fill="#a3d3f5" stroke="#a3d3f5" stroke-width="0.45"/>
<polygon points="1376.6,955.6 1391.7,964.8 1391.7,983.1 1376.6,992.3 1361.5,983.1 1361.5,964.8" fill="#a3d3f5" stroke="#a3d3f5" stroke-width="0.45"/>
<polygon points="1467.2,955.6 1482.3,964.8 1482.3,983.1 1467.2,992.3 1452.1,983.1 1452.1,964.8" fill="#a3d3f5" stroke="#a3d3f5" stroke-width="0.45"/>
<polygon points="1497.4,955.6 1512.5,964.8 1512.5,983.1 1497.4,992.3 1482.3,983.1 1482.3,964.8" fill="#d1e9fa" stroke="#d1e9fa" stroke-width="0.45"/>
<polygon points="1527.6,955.6 1542.7,964.8 1542.7,983.1 1527.6,992.3 1512.5,983.1 1512.5,964.8" fill="#d1e9fa" stroke="#d1e9fa" stroke-width="0.45"/>
<polygon points="1588.0,955.6 1603.1,964.8 1603.1,983.1 1588.0,992.3 1572.9,983.1 1572.9,964.8" fill="#a3d3f5" stroke="#a3d3f5" stroke-width="0.45"/>
<polygon points="1331.3,983.1 1346.4,992.3 1346.4,1010.7 1331.3,1019.9 1316.2,1010.7 1316.2,992.3" fill="#a3d3f5" stroke="#a3d3f5" stroke-width="0.45"/>
<polygon points="1452.1,983.1 1467.2,992.3 1467.2,1010.7 1452.1,1019.9 1437.0,1010.7 1437.0,992.3" fill="#1891e7" stroke="#1891e7" stroke-width="0.45"/>
<polygon points="1482.3,983.1 1497.4,992.3 1497.4,1010.7 1482.3,1019.9 1467.2,1010.7 1467.2,992.3" fill="#ffffff" stroke="#ffffff" stroke-width="0.45"/>
<polygon points="1512.5,983.1 1527.6,992.3 1527.6,1010.7 1512.5,1019.9 1497.4,1010.7 1497.4,992.3" fill="#75bdf0" stroke="#75bdf0" stroke-width="0.45"/>
<polygon points="1572.9,983.1 1588.0,992.3 1588.0,1010.7 1572.9,1019.9 1557.8,1010.7 1557.8,992.3" fill="#75bdf0" stroke="#75bdf0" stroke-width="0.45"/>
<polygon points="1165.2,1010.7 1180.3,1019.9 1180.3,1038.2 1165.2,1047.4 1150.1,1038.2 1150.1,1019.9" fill="#a3d3f5" stroke="#a3d3f5" stroke-width="0.45"/>
<polygon points="1225.6,1010.7 1240.7,1019.9 1240.7,1038.2 1225.6,1047.4 1210.5,1038.2 1210.5,1019.9" fill="#a3d3f5" stroke="#a3d3f5" stroke-width="0.45"/>
<polygon points="1255.8,1010.7 1270.9,1019.9 1270.9,1038.2 1255.8,1047.4 1240.7,1038.2 1240.7,1019.9" fill="#0f578a" stroke="#0f578a" stroke-width="0.45"/>
<polygon points="1286.0,1010.7 1301.1,1019.9 1301.1,1038.2 1286.0,1047.4 1270.9,1038.2 1270.9,1019.9" fill="#0f578a" stroke="#0f578a" stroke-width="0.45"/>
<polygon points="1316.2,1010.7 1331.3,1019.9 1331.3,1038.2 1316.2,1047.4 1301.1,1038.2 1301.1,1019.9" fill="#75bdf0" stroke="#75bdf0" stroke-width="0.45"/>
<polygon points="1346.4,1010.7 1361.5,1019.9 1361.5,1038.2 1346.4,1047.4 1331.3,1038.2 1331.3,1019.9" fill="#a3d3f5" stroke="#a3d3f5" stroke-width="0.45"/>
<polygon points="1376.6,1010.7 1391.7,1019.9 1391.7,1038.2 1376.6,1047.4 1361.5,1038.2 1361.5,1019.9" fill="#d1e9fa" stroke="#d1e9fa" stroke-width="0.45"/>
<polygon points="1406.8,1010.7 1421.9,1019.9 1421.9,1038.2 1406.8,1047.4 1391.7,1038.2 1391.7,1019.9" fill="#a3d3f5" stroke="#a3d3f5" stroke-width="0.45"/>
<polygon points="1437.0,1010.7 1452.1,1019.9 1452.1,1038.2 1437.0,1047.4 1421.9,1038.2 1421.9,1019.9" fill="#a3d3f5" stroke="#a3d3f5" stroke-width="0.45"/>
<polygon points="1467.2,1010.7 1482.3,1019.9 1482.3,1038.2 1467.2,1047.4 1452.1,1038.2 1452.1,1019.9" fill="#ffffff" stroke="#ffffff" stroke-width="0.45"/>
<polygon points="1497.4,1010.7 1512.5,1019.9 1512.5,1038.2 1497.4,1047.4 1482.3,1038.2 1482.3,1019.9" fill="#000000" stroke="#000000" stroke-width="0.45"/>
<polygon points="1527.6,1010.7 1542.7,1019.9 1542.7,1038.2 1527.6,1047.4 1512.5,1038.2 1512.5,1019.9" fill="#1374b9" stroke="#1374b9" stroke-width="0.45"/>
<polygon points="1557.8,1010.7 1572.9,1019.9 1572.9,1038.2 1557.8,1047.4 1542.7,1038.2 1542.7,1019.9" fill="#a3d3f5" stroke="#a3d3f5" stroke-width="0.45"/>
<polygon points="1210.5,1038.2 1225.6,1047.4 1225.6,1065.8 1210.5,1074.9 1195.4,1065.8 1195.4,1047.4" fill="#a3d3f5" stroke="#a3d3f5" stroke-width="0.45"/>
<polygon points="1240.7,1038.2 1255.8,1047.4 1255.8,1065.8 1240.7,1074.9 1225.6,1065.8 1225.6,1047.4" fill="#d1e9fa" stroke="#d1e9fa" stroke-width="0.45"/>
<polygon points="1391.7,1038.2 1406.8,1047.4 1406.8,1065.8 1391.7,1074.9 1376.6,1065.8 1376.6,1047.4" fill="#0f578a" stroke="#0f578a" stroke-width="0.45"/>
<polygon points="1421.9,1038.2 1437.0,1047.4 1437.0,1065.8 1421.9,1074.9 1406.8,1065.8 1406.8,1047.4" fill="#1891e7" stroke="#1891e7" stroke-width="0.45"/>
<polygon points="1452.1,1038.2 1467.2,1047.4 1467.2,1065.8 1452.1,1074.9 1437.0,1065.8 1437.0,1047.4" fill="#46a7ec" stroke="#46a7ec" stroke-width="0.45"/>
<polygon points="1482.3,1038.2 1497.4,1047.4 1497.4,1065.8 1482.3,1074.9 1467.2,1065.8 1467.2,1047.4" fill="#1374b9" stroke="#1374b9" stroke-width="0.45"/>
<polygon points="1512.5,1038.2 1527.6,1047.4 1527.6,1065.8 1512.5,1074.9 1497.4,1065.8 1497.4,1047.4" fill="#46a7ec" stroke="#46a7ec" stroke-width="0.45"/>
<polygon points="1542.7,1038.2 1557.8,1047.4 1557.8,1065.8 1542.7,1074.9 1527.6,1065.8 1527.6,1047.4" fill="#0f578a" stroke="#0f578a" stroke-width="0.45"/>
<polygon points="1572.9,1038.2 1588.0,1047.4 1588.0,1065.8 1572.9,1074.9 1557.8,1065.8 1557.8,1047.4" fill="#d1e9fa" stroke="#d1e9fa" stroke-width="0.45"/>
<polygon points="1603.1,1038.2 1618.2,1047.4 1618.2,1065.8 1603.1,1074.9 1588.0,1065.8 1588.0,1047.4" fill="#d1e9fa" stroke="#d1e9fa" stroke-width="0.45"/>
<polygon points="1135.0,1065.8 1150.1,1074.9 1150.1,1093.3 1135.0,1102.5 1119.9,1093.3 1119.9,1074.9" fill="#1891e7" stroke="#1891e7" stroke-width="0.45"/>
<polygon points="1165.2,1065.8 1180.3,1074.9 1180.3,1093.3 1165.2,1102.5 1150.1,1093.3 1150.1,1074.9" fill="#a3d3f5" stroke="#a3d3f5" stroke-width="0.45"/>
<polygon points="1316.2,1065.8 1331.3,1074.9 1331.3,1093.3 1316.2,1102.5 1301.1,1093.3 1301.1,1074.9" fill="#a3d3f5" stroke="#a3d3f5" stroke-width="0.45"/>
<polygon points="1346.4,1065.8 1361.5,1074.9 1361.5,1093.3 1346.4,1102.5 1331.3,1093.3 1331.3,1074.9" fill="#a3d3f5" stroke="#a3d3f5" stroke-width="0.45"/>
<polygon points="1406.8,1065.8 1421.9,1074.9 1421.9,1093.3 1406.8,1102.5 1391.7,1093.3 1391.7,1074.9" fill="#75bdf0" stroke="#75bdf0" stroke-width="0.45"/>
<polygon points="1437.0,1065.8 1452.1,1074.9 1452.1,1093.3 1437.0,1102.5 1421.9,1093.3 1421.9,1074.9" fill="#a3d3f5" stroke="#a3d3f5" stroke-width="0.45"/>
<polygon points="1467.2,1065.8 1482.3,1074.9 1482.3,1093.3 1467.2,1102.5 1452.1,1093.3 1452.1,1074.9" fill="#d1e9fa" stroke="#d1e9fa" stroke-width="0.45"/>
<polygon points="1497.4,1065.8 1512.5,1074.9 1512.5,1093.3 1497.4,1102.5 1482.3,1093.3 1482.3,1074.9" fill="#1891e7" stroke="#1891e7" stroke-width="0.45"/>
<polygon points="1527.6,1065.8 1542.7,1074.9 1542.7,1093.3 1527.6,1102.5 1512.5,1093.3 1512.5,1074.9" fill="#46a7ec" stroke="#46a7ec" stroke-width="0.45"/>
<polygon points="1557.8,1065.8 1572.9,1074.9 1572.9,1093.3 1557.8,1102.5 1542.7,1093.3 1542.7,1074.9" fill="#d1e9fa" stroke="#d1e9fa" stroke-width="0.45"/>
<polygon points="1150.1,1093.3 1165.2,1102.5 1165.2,1120.8 1150.1,1130.0 1135.0,1120.8 1135.0,1102.5" fill="#d1e9fa" stroke="#d1e9fa" stroke-width="0.45"/>
<polygon points="1391.7,1093.3 1406.8,1102.5 1406.8,1120.8 1391.7,1130.0 1376.6,1120.8 1376.6,1102.5" fill="#d1e9fa" stroke="#d1e9fa" stroke-width="0.45"/>
<polygon points="1421.9,1093.3 1437.0,1102.5 1437.0,1120.8 1421.9,1130.0 1406.8,1120.8 1406.8,1102.5" fill="#d1e9fa" stroke="#d1e9fa" stroke-width="0.45"/>
<polygon points="1482.3,1093.3 1497.4,1102.5 1497.4,1120.8 1482.3,1130.0 1467.2,1120.8 1467.2,1102.5" fill="#d1e9fa" stroke="#d1e9fa" stroke-width="0.45"/>
<polygon points="1542.7,1093.3 1557.8,1102.5 1557.8,1120.8 1542.7,1130.0 1527.6,1120.8 1527.6,1102.5" fill="#75bdf0" stroke="#75bdf0" stroke-width="0.45"/>
<polygon points="1135.0,1120.8 1150.1,1130.0 1150.1,1148.4 1135.0,1157.6 1119.9,1148.4 1119.9,1130.0" fill="#a3d3f5" stroke="#a3d3f5" stroke-width="0.45"/>
<polygon points="1406.8,1120.8 1421.9,1130.0 1421.9,1148.4 1406.8,1157.6 1391.7,1148.4 1391.7,1130.0" fill="#d1e9fa" stroke="#d1e9fa" stroke-width="0.45"/>
<polygon points="1497.4,1120.8 1512.5,1130.0 1512.5,1148.4 1497.4,1157.6 1482.3,1148.4 1482.3,1130.0" fill="#d1e9fa" stroke="#d1e9fa" stroke-width="0.45"/>
<polygon points="1557.8,1120.8 1572.9,1130.0 1572.9,1148.4 1557.8,1157.6 1542.7,1148.4 1542.7,1130.0" fill="#a3d3f5" stroke="#a3d3f5" stroke-width="0.45"/>
<polygon points="1588.0,1120.8 1603.1,1130.0 1603.1,1148.4 1588.0,1157.6 1572.9,1148.4 1572.9,1130.0" fill="#d1e9fa" stroke="#d1e9fa" stroke-width="0.45"/>
<polygon points="1391.7,1148.4 1406.8,1157.6 1406.8,1175.9 1391.7,1185.1 1376.6,1175.9 1376.6,1157.6" fill="#d1e9fa" stroke="#d1e9fa" stroke-width="0.45"/>
<polygon points="1421.9,1148.4 1437.0,1157.6 1437.0,1175.9 1421.9,1185.1 1406.8,1175.9 1406.8,1157.6" fill="#d1e9fa" stroke="#d1e9fa" stroke-width="0.45"/>
<polygon points="1542.7,1148.4 1557.8,1157.6 1557.8,1175.9 1542.7,1185.1 1527.6,1175.9 1527.6,1157.6" fill="#75bdf0" stroke="#75bdf0" stroke-width="0.45"/>
<polygon points="1406.8,1175.9 1421.9,1185.1 1421.9,1203.5 1406.8,1212.6 1391.7,1203.5 1391.7,1185.1" fill="#a3d3f5" stroke="#a3d3f5" stroke-width="0.45"/>
<polygon points="1497.4,1175.9 1512.5,1185.1 1512.5,1203.5 1497.4,1212.6 1482.3,1203.5 1482.3,1185.1" fill="#d1e9fa" stroke="#d1e9fa" stroke-width="0.45"/>
<polygon points="1588.0,1175.9 1603.1,1185.1 1603.1,1203.5 1588.0,1212.6 1572.9,1203.5 1572.9,1185.1" fill="#d1e9fa" stroke="#d1e9fa" stroke-width="0.45"/>
<polygon points="1391.7,1203.5 1406.8,1212.6 1406.8,1231.0 1391.7,1240.2 1376.6,1231.0 1376.6,1212.6" fill="#d1e9fa" stroke="#d1e9fa" stroke-width="0.45"/>
<polygon points="1482.3,1203.5 1497.4,1212.6 1497.4,1231.0 1482.3,1240.2 1467.2,1231.0 1467.2,1212.6" fill="#46a7ec" stroke="#46a7ec" stroke-width="0.45"/>
<polygon points="1406.8,1231.0 1421.9,1240.2 1421.9,1258.5 1406.8,1267.7 1391.7,1258.5 1391.7,1240.2" fill="#d1e9fa" stroke="#d1e9fa" stroke-width="0.45"/>
<polygon points="1497.4,1231.0 1512.5,1240.2 1512.5,1258.5 1497.4,1267.7 1482.3,1258.5 1482.3,1240.2" fill="#d1e9fa" stroke="#d1e9fa" stroke-width="0.45"/>
<polygon points="1391.7,1258.5 1406.8,1267.7 1406.8,1286.1 1391.7,1295.3 1376.6,1286.1 1376.6,1267.7" fill="#d1e9fa" stroke="#d1e9fa" stroke-width="0.45"/>
<polygon points="1482.3,1258.5 1497.4,1267.7 1497.4,1286.1 1482.3,1295.3 1467.2,1286.1 1467.2,1267.7" fill="#d1e9fa" stroke="#d1e9fa" stroke-width="0.45"/>
<polygon points="1467.2,1286.1 1482.3,1295.3 1482.3,1313.6 1467.2,1322.8 1452.1,1313.6 1452.1,1295.3" fill="#a3d3f5" stroke="#a3d3f5" stroke-width="0.45"/>
<polygon points="1376.6,1341.2 1391.7,1350.3 1391.7,1368.7 1376.6,1377.9 1361.5,1368.7 1361.5,1350.3" fill="#d1e9fa" stroke="#d1e9fa" stroke-width="0.45"/>
<line x1="1111.7" y1="839.6" x2="1111.7" y2="1383.8" stroke="#262626" stroke-width="1.3"/>
<line x1="1111.2" y1="1383.5" x2="1643.6" y2="1383.5" stroke="#262626" stroke-width="1.3"/>
<line x1="1106.6" y1="858.4" x2="1111.7" y2="858.4" stroke="#262626" stroke-width="1.3"/>
<text x="1102.5" y="867.6999999999999" font-size="26" text-anchor="end" textLength="55.9" lengthAdjust="spacingAndGlyphs" fill="#262626">1600</text>
<line x1="1106.6" y1="923.3" x2="1111.7" y2="923.3" stroke="#262626" stroke-width="1.3"/>
<text x="1102.5" y="932.5999999999999" font-size="26" text-anchor="end" textLength="55.9" lengthAdjust="spacingAndGlyphs" fill="#262626">1500</text>
<line x1="1106.6" y1="988.2" x2="1111.7" y2="988.2" stroke="#262626" stroke-width="1.3"/>
<text x="1102.5" y="997.5" font-size="26" text-anchor="end" textLength="55.9" lengthAdjust="spacingAndGlyphs" fill="#262626">1400</text>
<line x1="1106.6" y1="1053.1" x2="1111.7" y2="1053.1" stroke="#262626" stroke-width="1.3"/>
<text x="1102.5" y="1062.3999999999999" font-size="26" text-anchor="end" textLength="55.9" lengthAdjust="spacingAndGlyphs" fill="#262626">1300</text>
<line x1="1106.6" y1="1118.0" x2="1111.7" y2="1118.0" stroke="#262626" stroke-width="1.3"/>
<text x="1102.5" y="1127.3" font-size="26" text-anchor="end" textLength="55.9" lengthAdjust="spacingAndGlyphs" fill="#262626">1200</text>
<line x1="1106.6" y1="1182.9" x2="1111.7" y2="1182.9" stroke="#262626" stroke-width="1.3"/>
<text x="1102.5" y="1192.2" font-size="26" text-anchor="end" textLength="55.9" lengthAdjust="spacingAndGlyphs" fill="#262626">1100</text>
<line x1="1106.6" y1="1247.8" x2="1111.7" y2="1247.8" stroke="#262626" stroke-width="1.3"/>
<text x="1102.5" y="1257.1" font-size="26" text-anchor="end" textLength="55.9" lengthAdjust="spacingAndGlyphs" fill="#262626">1000</text>
<line x1="1106.6" y1="1312.7" x2="1111.7" y2="1312.7" stroke="#262626" stroke-width="1.3"/>
<text x="1102.5" y="1322.0" font-size="26" text-anchor="end" textLength="55.9" lengthAdjust="spacingAndGlyphs" fill="#262626">900</text>
<line x1="1106.6" y1="1377.6" x2="1111.7" y2="1377.6" stroke="#262626" stroke-width="1.3"/>
<text x="1102.5" y="1386.8999999999999" font-size="26" text-anchor="end" textLength="55.9" lengthAdjust="spacingAndGlyphs" fill="#262626">800</text>
<line x1="1203.7" y1="1383.5" x2="1203.7" y2="1388.6" stroke="#262626" stroke-width="1.3"/>
<text x="1203.7" y="1413" font-size="26" text-anchor="middle" fill="#262626">−8</text>
<line x1="1309.2" y1="1383.5" x2="1309.2" y2="1388.6" stroke="#262626" stroke-width="1.3"/>
<text x="1309.2" y="1413" font-size="26" text-anchor="middle" fill="#262626">−6</text>
<line x1="1414.7" y1="1383.5" x2="1414.7" y2="1388.6" stroke="#262626" stroke-width="1.3"/>
<text x="1414.7" y="1413" font-size="26" text-anchor="middle" fill="#262626">−4</text>
<line x1="1520.1" y1="1383.5" x2="1520.1" y2="1388.6" stroke="#262626" stroke-width="1.3"/>
<text x="1520.1" y="1413" font-size="26" text-anchor="middle" fill="#262626">−2</text>
<line x1="1625.4" y1="1383.5" x2="1625.4" y2="1388.6" stroke="#262626" stroke-width="1.3"/>
<text x="1625.4" y="1413" font-size="26" text-anchor="middle" fill="#262626">0</text>
<text x="1377" y="1444.6" font-size="28.5" text-anchor="middle" textLength="419" lengthAdjust="spacingAndGlyphs" fill="#262626">Binding/Adsorption Energy (eV)</text>
<text transform="translate(1034.5,1110.5) rotate(-90)" font-size="29.2" text-anchor="middle" fill="#262626" textLength="277" lengthAdjust="spacingAndGlyphs"><tspan font-style="italic">Q</tspan><tspan font-style="italic" font-size="20.5" dy="5.6">rev</tspan><tspan dy="-5.6"> at 0.1C (mAh/g)</tspan></text>
<line x1="118.9" y1="809.7" x2="984.0" y2="809.7" stroke="#262626" stroke-width="1.1"/>
<line x1="118.9" y1="809.2" x2="118.9" y2="1382.5" stroke="#7f7f7f" stroke-width="1.6"/>
<line x1="984.0" y1="809.2" x2="984.0" y2="1382.5" stroke="#7f7f7f" stroke-width="1.6"/>
<line x1="118.1" y1="1382.5" x2="984.8" y2="1382.5" stroke="#7f7f7f" stroke-width="1.6"/>
<line x1="180.7" y1="835.2" x2="180.7" y2="1012.1" stroke="#8a8a8a" stroke-width="1.4"/>
<line x1="180.7" y1="1169.8" x2="180.7" y2="1305.5" stroke="#8a8a8a" stroke-width="1.4"/>
<line x1="155.7" y1="835.2" x2="205.7" y2="835.2" stroke="#8a8a8a" stroke-width="1.4"/>
<line x1="155.7" y1="1305.5" x2="205.7" y2="1305.5" stroke="#8a8a8a" stroke-width="1.4"/>
<rect x="131.3" y="1012.1" width="99.2" height="157.7" fill="#64a8db" stroke="#7d7d7d" stroke-width="1.4"/>
<line x1="131.3" y1="1093.2" x2="230.5" y2="1093.2" stroke="#555555" stroke-width="1.4"/>
<line x1="304.4" y1="1098.6" x2="304.4" y2="1190.3" stroke="#8a8a8a" stroke-width="1.4"/>
<line x1="304.4" y1="1315.3" x2="304.4" y2="1327.3" stroke="#8a8a8a" stroke-width="1.4"/>
<line x1="279.4" y1="1098.6" x2="329.4" y2="1098.6" stroke="#8a8a8a" stroke-width="1.4"/>
<line x1="279.4" y1="1327.3" x2="329.4" y2="1327.3" stroke="#8a8a8a" stroke-width="1.4"/>
<rect x="254.9" y="1190.3" width="98.9" height="125.0" fill="#64a8db" stroke="#7d7d7d" stroke-width="1.4"/>
<line x1="254.9" y1="1268.9" x2="353.8" y2="1268.9" stroke="#555555" stroke-width="1.4"/>
<line x1="427.8" y1="1045.5" x2="427.8" y2="1209.2" stroke="#8a8a8a" stroke-width="1.4"/>
<line x1="427.8" y1="1333.8" x2="427.8" y2="1348.4" stroke="#8a8a8a" stroke-width="1.4"/>
<line x1="402.8" y1="1045.5" x2="452.8" y2="1045.5" stroke="#8a8a8a" stroke-width="1.4"/>
<line x1="402.8" y1="1348.4" x2="452.8" y2="1348.4" stroke="#8a8a8a" stroke-width="1.4"/>
<rect x="378.5" y="1209.2" width="99.1" height="124.6" fill="#64a8db" stroke="#7d7d7d" stroke-width="1.4"/>
<line x1="378.5" y1="1300.1" x2="477.6" y2="1300.1" stroke="#555555" stroke-width="1.4"/>
<line x1="551.5" y1="1035.0" x2="551.5" y2="1200.4" stroke="#8a8a8a" stroke-width="1.4"/>
<line x1="551.5" y1="1336.1" x2="551.5" y2="1355.8" stroke="#8a8a8a" stroke-width="1.4"/>
<line x1="526.5" y1="1035.0" x2="576.5" y2="1035.0" stroke="#8a8a8a" stroke-width="1.4"/>
<line x1="526.5" y1="1355.8" x2="576.5" y2="1355.8" stroke="#8a8a8a" stroke-width="1.4"/>
<rect x="501.9" y="1200.4" width="99.3" height="135.7" fill="#64a8db" stroke="#7d7d7d" stroke-width="1.4"/>
<line x1="501.9" y1="1280.2" x2="601.2" y2="1280.2" stroke="#555555" stroke-width="1.4"/>
<line x1="674.8" y1="1243.8" x2="674.8" y2="1273.4" stroke="#8a8a8a" stroke-width="1.4"/>
<line x1="674.8" y1="1322.3" x2="674.8" y2="1338.4" stroke="#8a8a8a" stroke-width="1.4"/>
<line x1="649.8" y1="1243.8" x2="699.8" y2="1243.8" stroke="#8a8a8a" stroke-width="1.4"/>
<line x1="649.8" y1="1338.4" x2="699.8" y2="1338.4" stroke="#8a8a8a" stroke-width="1.4"/>
<rect x="625.4" y="1273.4" width="99.1" height="48.9" fill="#64a8db" stroke="#7d7d7d" stroke-width="1.4"/>
<line x1="625.4" y1="1303.4" x2="724.5" y2="1303.4" stroke="#555555" stroke-width="1.4"/>
<line x1="798.1" y1="1127.6" x2="798.1" y2="1237.6" stroke="#8a8a8a" stroke-width="1.4"/>
<line x1="798.1" y1="1327.1" x2="798.1" y2="1352.6" stroke="#8a8a8a" stroke-width="1.4"/>
<line x1="773.1" y1="1127.6" x2="823.1" y2="1127.6" stroke="#8a8a8a" stroke-width="1.4"/>
<line x1="773.1" y1="1352.6" x2="823.1" y2="1352.6" stroke="#8a8a8a" stroke-width="1.4"/>
<rect x="749.4" y="1237.6" width="99.1" height="89.5" fill="#64a8db" stroke="#7d7d7d" stroke-width="1.4"/>
<line x1="749.4" y1="1284.3" x2="848.5" y2="1284.3" stroke="#555555" stroke-width="1.4"/>
<line x1="922.3" y1="1218.2" x2="922.3" y2="1267.9" stroke="#8a8a8a" stroke-width="1.4"/>
<line x1="922.3" y1="1338.3" x2="922.3" y2="1357.0" stroke="#8a8a8a" stroke-width="1.4"/>
<line x1="897.3" y1="1218.2" x2="947.3" y2="1218.2" stroke="#8a8a8a" stroke-width="1.4"/>
<line x1="897.3" y1="1357.0" x2="947.3" y2="1357.0" stroke="#8a8a8a" stroke-width="1.4"/>
<rect x="872.5" y="1267.9" width="99.1" height="70.4" fill="#64a8db" stroke="#7d7d7d" stroke-width="1.4"/>
<line x1="872.5" y1="1326.6" x2="971.6" y2="1326.6" stroke="#555555" stroke-width="1.4"/>
<circle cx="175.0" cy="835.2" r="3.6" fill="#3ca1eb" stroke="#505050" stroke-width="0.6"/>
<circle cx="185.3" cy="849.9" r="3.6" fill="#3ca1eb" stroke="#505050" stroke-width="0.6"/>
<circle cx="179.4" cy="940.8" r="3.6" fill="#3ca1eb" stroke="#505050" stroke-width="0.6"/>
<circle cx="182.7" cy="942.2" r="3.6" fill="#3ca1eb" stroke="#505050" stroke-width="0.6"/>
<circle cx="177.0" cy="969.3" r="3.6" fill="#3ca1eb" stroke="#505050" stroke-width="0.6"/>
<circle cx="168.7" cy="1026.0" r="3.6" fill="#3ca1eb" stroke="#505050" stroke-width="0.6"/>
<circle cx="185.3" cy="1033.4" r="3.6" fill="#3ca1eb" stroke="#505050" stroke-width="0.6"/>
<circle cx="192.1" cy="1048.3" r="3.6" fill="#3ca1eb" stroke="#505050" stroke-width="0.6"/>
<circle cx="192.7" cy="1050.9" r="3.6" fill="#3ca1eb" stroke="#505050" stroke-width="0.6"/>
<circle cx="179.1" cy="1087.9" r="3.6" fill="#3ca1eb" stroke="#505050" stroke-width="0.6"/>
<circle cx="187.9" cy="1098.9" r="3.6" fill="#3ca1eb" stroke="#505050" stroke-width="0.6"/>
<circle cx="192.2" cy="1099.9" r="3.6" fill="#3ca1eb" stroke="#505050" stroke-width="0.6"/>
<circle cx="187.8" cy="1134.2" r="3.6" fill="#3ca1eb" stroke="#505050" stroke-width="0.6"/>
<circle cx="179.0" cy="1152.7" r="3.6" fill="#3ca1eb" stroke="#505050" stroke-width="0.6"/>
<circle cx="190.5" cy="1162.4" r="3.6" fill="#3ca1eb" stroke="#505050" stroke-width="0.6"/>
<circle cx="192.8" cy="1192.4" r="3.6" fill="#3ca1eb" stroke="#505050" stroke-width="0.6"/>
<circle cx="175.5" cy="1241.5" r="3.6" fill="#3ca1eb" stroke="#505050" stroke-width="0.6"/>
<circle cx="185.4" cy="1253.0" r="3.6" fill="#3ca1eb" stroke="#505050" stroke-width="0.6"/>
<circle cx="190.9" cy="1254.1" r="3.6" fill="#3ca1eb" stroke="#505050" stroke-width="0.6"/>
<circle cx="183.7" cy="1305.5" r="3.6" fill="#3ca1eb" stroke="#505050" stroke-width="0.6"/>
<circle cx="303.9" cy="925.6" r="3.6" fill="#3ca1eb" stroke="#505050" stroke-width="0.6"/>
<circle cx="292.3" cy="1098.6" r="3.6" fill="#3ca1eb" stroke="#505050" stroke-width="0.6"/>
<circle cx="314.3" cy="1169.2" r="3.6" fill="#3ca1eb" stroke="#505050" stroke-width="0.6"/>
<circle cx="297.4" cy="1190.3" r="3.6" fill="#3ca1eb" stroke="#505050" stroke-width="0.6"/>
<circle cx="303.4" cy="1190.3" r="3.6" fill="#3ca1eb" stroke="#505050" stroke-width="0.6"/>
<circle cx="304.6" cy="1229.0" r="3.6" fill="#3ca1eb" stroke="#505050" stroke-width="0.6"/>
<circle cx="315.9" cy="1252.2" r="3.6" fill="#3ca1eb" stroke="#505050" stroke-width="0.6"/>
<circle cx="301.5" cy="1268.9" r="3.6" fill="#3ca1eb" stroke="#505050" stroke-width="0.6"/>
<circle cx="292.1" cy="1285.3" r="3.6" fill="#3ca1eb" stroke="#505050" stroke-width="0.6"/>
<circle cx="305.7" cy="1298.7" r="3.6" fill="#3ca1eb" stroke="#505050" stroke-width="0.6"/>
<circle cx="300.5" cy="1310.0" r="3.6" fill="#3ca1eb" stroke="#505050" stroke-width="0.6"/>
<circle cx="310.0" cy="1320.3" r="3.6" fill="#3ca1eb" stroke="#505050" stroke-width="0.6"/>
<circle cx="302.6" cy="1323.8" r="3.6" fill="#3ca1eb" stroke="#505050" stroke-width="0.6"/>
<circle cx="308.3" cy="1323.0" r="3.6" fill="#3ca1eb" stroke="#505050" stroke-width="0.6"/>
<circle cx="298.5" cy="1327.3" r="3.6" fill="#3ca1eb" stroke="#505050" stroke-width="0.6"/>
<circle cx="422.4" cy="1045.7" r="3.6" fill="#3ca1eb" stroke="#505050" stroke-width="0.6"/>
<circle cx="430.1" cy="1124.3" r="3.6" fill="#3ca1eb" stroke="#505050" stroke-width="0.6"/>
<circle cx="438.5" cy="1185.8" r="3.6" fill="#3ca1eb" stroke="#505050" stroke-width="0.6"/>
<circle cx="422.7" cy="1281.2" r="3.6" fill="#3ca1eb" stroke="#505050" stroke-width="0.6"/>
<circle cx="424.8" cy="1281.6" r="3.6" fill="#3ca1eb" stroke="#505050" stroke-width="0.6"/>
<circle cx="437.5" cy="1318.4" r="3.6" fill="#3ca1eb" stroke="#505050" stroke-width="0.6"/>
<circle cx="433.6" cy="1321.9" r="3.6" fill="#3ca1eb" stroke="#505050" stroke-width="0.6"/>
<circle cx="419.8" cy="1337.7" r="3.6" fill="#3ca1eb" stroke="#505050" stroke-width="0.6"/>
<circle cx="431.5" cy="1345.6" r="3.6" fill="#3ca1eb" stroke="#505050" stroke-width="0.6"/>
<circle cx="430.1" cy="1348.6" r="3.6" fill="#3ca1eb" stroke="#505050" stroke-width="0.6"/>
<circle cx="555.3" cy="889.8" r="3.6" fill="#3ca1eb" stroke="#505050" stroke-width="0.6"/>
<circle cx="557.2" cy="976.0" r="3.6" fill="#3ca1eb" stroke="#505050" stroke-width="0.6"/>
<circle cx="557.2" cy="993.0" r="3.6" fill="#3ca1eb" stroke="#505050" stroke-width="0.6"/>
<circle cx="542.1" cy="1035.0" r="3.6" fill="#3ca1eb" stroke="#505050" stroke-width="0.6"/>
<circle cx="556.6" cy="1070.6" r="3.6" fill="#3ca1eb" stroke="#505050" stroke-width="0.6"/>
<circle cx="543.0" cy="1126.0" r="3.6" fill="#3ca1eb" stroke="#505050" stroke-width="0.6"/>
<circle cx="556.6" cy="1143.5" r="3.6" fill="#3ca1eb" stroke="#505050" stroke-width="0.6"/>
<circle cx="561.3" cy="1143.9" r="3.6" fill="#3ca1eb" stroke="#505050" stroke-width="0.6"/>
<circle cx="540.1" cy="1172.0" r="3.6" fill="#3ca1eb" stroke="#505050" stroke-width="0.6"/>
<circle cx="551.2" cy="1200.4" r="3.6" fill="#3ca1eb" stroke="#505050" stroke-width="0.6"/>
<circle cx="544.2" cy="1221.0" r="3.6" fill="#3ca1eb" stroke="#505050" stroke-width="0.6"/>
<circle cx="562.7" cy="1242.8" r="3.6" fill="#3ca1eb" stroke="#505050" stroke-width="0.6"/>
<circle cx="547.5" cy="1251.4" r="3.6" fill="#3ca1eb" stroke="#505050" stroke-width="0.6"/>
<circle cx="553.5" cy="1255.5" r="3.6" fill="#3ca1eb" stroke="#505050" stroke-width="0.6"/>
<circle cx="547.9" cy="1258.6" r="3.6" fill="#3ca1eb" stroke="#505050" stroke-width="0.6"/>
<circle cx="539.7" cy="1265.8" r="3.6" fill="#3ca1eb" stroke="#505050" stroke-width="0.6"/>
<circle cx="551.2" cy="1268.9" r="3.6" fill="#3ca1eb" stroke="#505050" stroke-width="0.6"/>
<circle cx="557.0" cy="1269.3" r="3.6" fill="#3ca1eb" stroke="#505050" stroke-width="0.6"/>
<circle cx="541.3" cy="1280.2" r="3.6" fill="#3ca1eb" stroke="#505050" stroke-width="0.6"/>
<circle cx="551.2" cy="1284.3" r="3.6" fill="#3ca1eb" stroke="#505050" stroke-width="0.6"/>
<circle cx="550.8" cy="1289.4" r="3.6" fill="#3ca1eb" stroke="#505050" stroke-width="0.6"/>
<circle cx="560.7" cy="1290.5" r="3.6" fill="#3ca1eb" stroke="#505050" stroke-width="0.6"/>
<circle cx="550.0" cy="1323.8" r="3.6" fill="#3ca1eb" stroke="#505050" stroke-width="0.6"/>
<circle cx="563.7" cy="1322.7" r="3.6" fill="#3ca1eb" stroke="#505050" stroke-width="0.6"/>
<circle cx="552.6" cy="1331.0" r="3.6" fill="#3ca1eb" stroke="#505050" stroke-width="0.6"/>
<circle cx="559.0" cy="1328.9" r="3.6" fill="#3ca1eb" stroke="#505050" stroke-width="0.6"/>
<circle cx="540.9" cy="1336.1" r="3.6" fill="#3ca1eb" stroke="#505050" stroke-width="0.6"/>
<circle cx="552.6" cy="1339.4" r="3.6" fill="#3ca1eb" stroke="#505050" stroke-width="0.6"/>
<circle cx="556.3" cy="1337.7" r="3.6" fill="#3ca1eb" stroke="#505050" stroke-width="0.6"/>
<circle cx="554.3" cy="1341.9" r="3.6" fill="#3ca1eb" stroke="#505050" stroke-width="0.6"/>
<circle cx="560.7" cy="1346.6" r="3.6" fill="#3ca1eb" stroke="#505050" stroke-width="0.6"/>
<circle cx="549.2" cy="1352.1" r="3.6" fill="#3ca1eb" stroke="#505050" stroke-width="0.6"/>
<circle cx="558.6" cy="1353.2" r="3.6" fill="#3ca1eb" stroke="#505050" stroke-width="0.6"/>
<circle cx="541.8" cy="1355.6" r="3.6" fill="#3ca1eb" stroke="#505050" stroke-width="0.6"/>
<circle cx="671.0" cy="1032.6" r="3.6" fill="#3ca1eb" stroke="#505050" stroke-width="0.6"/>
<circle cx="677.8" cy="1243.8" r="3.6" fill="#3ca1eb" stroke="#505050" stroke-width="0.6"/>
<circle cx="674.1" cy="1273.4" r="3.6" fill="#3ca1eb" stroke="#505050" stroke-width="0.6"/>
<circle cx="686.9" cy="1278.1" r="3.6" fill="#3ca1eb" stroke="#505050" stroke-width="0.6"/>
<circle cx="664.7" cy="1300.7" r="3.6" fill="#3ca1eb" stroke="#505050" stroke-width="0.6"/>
<circle cx="672.7" cy="1305.9" r="3.6" fill="#3ca1eb" stroke="#505050" stroke-width="0.6"/>
<circle cx="664.5" cy="1319.2" r="3.6" fill="#3ca1eb" stroke="#505050" stroke-width="0.6"/>
<circle cx="679.5" cy="1320.7" r="3.6" fill="#3ca1eb" stroke="#505050" stroke-width="0.6"/>
<circle cx="663.9" cy="1325.8" r="3.6" fill="#3ca1eb" stroke="#505050" stroke-width="0.6"/>
<circle cx="676.8" cy="1325.4" r="3.6" fill="#3ca1eb" stroke="#505050" stroke-width="0.6"/>
<circle cx="681.5" cy="1338.8" r="3.6" fill="#3ca1eb" stroke="#505050" stroke-width="0.6"/>
<circle cx="803.0" cy="1071.8" r="3.6" fill="#3ca1eb" stroke="#505050" stroke-width="0.6"/>
<circle cx="810.1" cy="1076.3" r="3.6" fill="#3ca1eb" stroke="#505050" stroke-width="0.6"/>
<circle cx="801.2" cy="1127.6" r="3.6" fill="#3ca1eb" stroke="#505050" stroke-width="0.6"/>
<circle cx="805.3" cy="1208.8" r="3.6" fill="#3ca1eb" stroke="#505050" stroke-width="0.6"/>
<circle cx="802.9" cy="1214.0" r="3.6" fill="#3ca1eb" stroke="#505050" stroke-width="0.6"/>
<circle cx="799.2" cy="1219.1" r="3.6" fill="#3ca1eb" stroke="#505050" stroke-width="0.6"/>
<circle cx="797.1" cy="1226.3" r="3.6" fill="#3ca1eb" stroke="#505050" stroke-width="0.6"/>
<circle cx="788.0" cy="1237.4" r="3.6" fill="#3ca1eb" stroke="#505050" stroke-width="0.6"/>
<circle cx="797.1" cy="1234.3" r="3.6" fill="#3ca1eb" stroke="#505050" stroke-width="0.6"/>
<circle cx="803.3" cy="1237.6" r="3.6" fill="#3ca1eb" stroke="#505050" stroke-width="0.6"/>
<circle cx="810.7" cy="1234.9" r="3.6" fill="#3ca1eb" stroke="#505050" stroke-width="0.6"/>
<circle cx="786.8" cy="1257.6" r="3.6" fill="#3ca1eb" stroke="#505050" stroke-width="0.6"/>
<circle cx="795.7" cy="1254.5" r="3.6" fill="#3ca1eb" stroke="#505050" stroke-width="0.6"/>
<circle cx="792.6" cy="1260.6" r="3.6" fill="#3ca1eb" stroke="#505050" stroke-width="0.6"/>
<circle cx="800.2" cy="1263.7" r="3.6" fill="#3ca1eb" stroke="#505050" stroke-width="0.6"/>
<circle cx="810.5" cy="1262.7" r="3.6" fill="#3ca1eb" stroke="#505050" stroke-width="0.6"/>
<circle cx="788.0" cy="1266.2" r="3.6" fill="#3ca1eb" stroke="#505050" stroke-width="0.6"/>
<circle cx="789.5" cy="1275.7" r="3.6" fill="#3ca1eb" stroke="#505050" stroke-width="0.6"/>
<circle cx="803.3" cy="1280.8" r="3.6" fill="#3ca1eb" stroke="#505050" stroke-width="0.6"/>
<circle cx="796.5" cy="1284.3" r="3.6" fill="#3ca1eb" stroke="#505050" stroke-width="0.6"/>
<circle cx="806.8" cy="1290.9" r="3.6" fill="#3ca1eb" stroke="#505050" stroke-width="0.6"/>
<circle cx="789.3" cy="1309.6" r="3.6" fill="#3ca1eb" stroke="#505050" stroke-width="0.6"/>
<circle cx="796.1" cy="1307.9" r="3.6" fill="#3ca1eb" stroke="#505050" stroke-width="0.6"/>
<circle cx="804.3" cy="1306.9" r="3.6" fill="#3ca1eb" stroke="#505050" stroke-width="0.6"/>
<circle cx="795.0" cy="1320.7" r="3.6" fill="#3ca1eb" stroke="#505050" stroke-width="0.6"/>
<circle cx="806.3" cy="1322.3" r="3.6" fill="#3ca1eb" stroke="#505050" stroke-width="0.6"/>
<circle cx="790.9" cy="1326.9" r="3.6" fill="#3ca1eb" stroke="#505050" stroke-width="0.6"/>
<circle cx="797.5" cy="1328.1" r="3.6" fill="#3ca1eb" stroke="#505050" stroke-width="0.6"/>
<circle cx="803.7" cy="1326.4" r="3.6" fill="#3ca1eb" stroke="#505050" stroke-width="0.6"/>
<circle cx="786.8" cy="1332.6" r="3.6" fill="#3ca1eb" stroke="#505050" stroke-width="0.6"/>
<circle cx="802.2" cy="1332.2" r="3.6" fill="#3ca1eb" stroke="#505050" stroke-width="0.6"/>
<circle cx="802.6" cy="1339.2" r="3.6" fill="#3ca1eb" stroke="#505050" stroke-width="0.6"/>
<circle cx="800.2" cy="1344.9" r="3.6" fill="#3ca1eb" stroke="#505050" stroke-width="0.6"/>
<circle cx="796.1" cy="1352.4" r="3.6" fill="#3ca1eb" stroke="#505050" stroke-width="0.6"/>
<circle cx="805.3" cy="1352.1" r="3.6" fill="#3ca1eb" stroke="#505050" stroke-width="0.6"/>
<circle cx="931.1" cy="1145.1" r="3.6" fill="#3ca1eb" stroke="#505050" stroke-width="0.6"/>
<circle cx="925.0" cy="1218.2" r="3.6" fill="#3ca1eb" stroke="#505050" stroke-width="0.6"/>
<circle cx="923.9" cy="1317.5" r="3.6" fill="#3ca1eb" stroke="#505050" stroke-width="0.6"/>
<circle cx="920.2" cy="1326.6" r="3.6" fill="#3ca1eb" stroke="#505050" stroke-width="0.6"/>
<circle cx="924.3" cy="1335.4" r="3.6" fill="#3ca1eb" stroke="#505050" stroke-width="0.6"/>
<circle cx="928.0" cy="1340.5" r="3.6" fill="#3ca1eb" stroke="#505050" stroke-width="0.6"/>
<circle cx="920.2" cy="1357.0" r="3.6" fill="#3ca1eb" stroke="#505050" stroke-width="0.6"/>
<line x1="114.6" y1="1357.8" x2="118.9" y2="1357.8" stroke="#4d4d4d" stroke-width="1.3"/>
<text x="111.0" y="1370.2" font-size="34.5" text-anchor="end" textLength="18.3" lengthAdjust="spacingAndGlyphs" fill="#262626">0</text>
<line x1="114.6" y1="1265.2" x2="118.9" y2="1265.2" stroke="#4d4d4d" stroke-width="1.3"/>
<text x="111.0" y="1277.6000000000001" font-size="34.5" text-anchor="end" textLength="54.900000000000006" lengthAdjust="spacingAndGlyphs" fill="#262626">250</text>
<line x1="114.6" y1="1172.6" x2="118.9" y2="1172.6" stroke="#4d4d4d" stroke-width="1.3"/>
<text x="111.0" y="1185.0" font-size="34.5" text-anchor="end" textLength="54.900000000000006" lengthAdjust="spacingAndGlyphs" fill="#262626">500</text>
<line x1="114.6" y1="1080.0" x2="118.9" y2="1080.0" stroke="#4d4d4d" stroke-width="1.3"/>
<text x="111.0" y="1092.4" font-size="34.5" text-anchor="end" textLength="54.900000000000006" lengthAdjust="spacingAndGlyphs" fill="#262626">750</text>
<line x1="114.6" y1="987.4" x2="118.9" y2="987.4" stroke="#4d4d4d" stroke-width="1.3"/>
<text x="111.0" y="999.8" font-size="34.5" text-anchor="end" textLength="73.2" lengthAdjust="spacingAndGlyphs" fill="#262626">1000</text>
<line x1="114.6" y1="894.8" x2="118.9" y2="894.8" stroke="#4d4d4d" stroke-width="1.3"/>
<text x="111.0" y="907.1999999999999" font-size="34.5" text-anchor="end" textLength="73.2" lengthAdjust="spacingAndGlyphs" fill="#262626">1250</text>
<line x1="180.7" y1="1382.5" x2="180.7" y2="1387" stroke="#4d4d4d" stroke-width="1.3"/>
<text x="180.7" y="1406.0" font-size="20.5" text-anchor="middle" fill="#000">Porous</text>
<text x="180.7" y="1427.8" font-size="20.5" text-anchor="middle" fill="#000">carbon</text>
<line x1="304.4" y1="1382.5" x2="304.4" y2="1387" stroke="#4d4d4d" stroke-width="1.3"/>
<text x="304.4" y="1406.0" font-size="20.5" text-anchor="middle" fill="#000">MOF-derived</text>
<text x="304.4" y="1427.8" font-size="20.5" text-anchor="middle" fill="#000">porous particle</text>
<line x1="427.8" y1="1382.5" x2="427.8" y2="1387" stroke="#4d4d4d" stroke-width="1.3"/>
<text x="427.8" y="1406.0" font-size="20.5" text-anchor="middle" fill="#000">Ordered</text>
<text x="427.8" y="1427.8" font-size="20.5" text-anchor="middle" fill="#000">structures</text>
<line x1="551.5" y1="1382.5" x2="551.5" y2="1387" stroke="#4d4d4d" stroke-width="1.3"/>
<text x="551.5" y="1406.0" font-size="20.5" text-anchor="middle" fill="#000">Hollow</text>
<text x="551.5" y="1427.8" font-size="20.5" text-anchor="middle" fill="#000">structures</text>
<line x1="674.8" y1="1382.5" x2="674.8" y2="1387" stroke="#4d4d4d" stroke-width="1.3"/>
<text x="674.8" y="1406.0" font-size="20.5" text-anchor="middle" fill="#000">1D</text>
<text x="674.8" y="1427.8" font-size="20.5" text-anchor="middle" fill="#000">assembly</text>
<line x1="798.1" y1="1382.5" x2="798.1" y2="1387" stroke="#4d4d4d" stroke-width="1.3"/>
<text x="798.1" y="1406.0" font-size="20.5" text-anchor="middle" fill="#000">2D</text>
<text x="798.1" y="1427.8" font-size="20.5" text-anchor="middle" fill="#000">assembly</text>
<line x1="922.3" y1="1382.5" x2="922.3" y2="1387" stroke="#4d4d4d" stroke-width="1.3"/>
<text x="922.3" y="1406.0" font-size="20.5" text-anchor="middle" fill="#000">3D</text>
<text x="922.3" y="1427.8" font-size="20.5" text-anchor="middle" fill="#000">assembly</text>
<text x="551.5" y="1457.9" font-size="30" text-anchor="middle" textLength="329" lengthAdjust="spacingAndGlyphs" fill="#262626">Sulfur host architecture</text>
<text transform="translate(25.1,1095.5) rotate(-90)" font-size="30" text-anchor="middle" fill="#262626" textLength="328" lengthAdjust="spacingAndGlyphs">BET surface area (m<tspan font-size="21" dy="-11">2</tspan><tspan dy="11">/g)</tspan></text>
<g stroke="#000" stroke-width="2.4" fill="none" stroke-linecap="square">
<path d="M36.8,60.6 L995.6,60.6 L996,754.3 L40,755 Z"/>
<path d="M37.5,289.3 L995.8,289.3"/>
<path d="M39,523.6 L995.8,523.6"/>
<path d="M307.2,60.6 L305.1,289.3"/>
<path d="M598.4,60.6 L596.4,289.3"/>
<path d="M468.8,289.3 L468.3,523.6"/>
<path d="M664.4,289.3 L663.6,523.6"/>
<path d="M515.7,523.6 L515.7,754.5"/>
</g>
<text x="182.5" y="271.0" font-size="27.5" text-anchor="middle" textLength="190.7" lengthAdjust="spacingAndGlyphs" fill="#111">Porous carbon</text>
<text x="463.0" y="247.3" font-size="27.5" text-anchor="middle" textLength="173.7" lengthAdjust="spacingAndGlyphs" fill="#111">MOF-derived</text>
<text y="273.5" font-size="27.5" fill="#111"><tspan x="361.3" textLength="140.6" lengthAdjust="spacingAndGlyphs">porous par</tspan><tspan x="501.9" y="273.8" font-family="DejaVu Sans" font-size="29.7" textLength="18.4" lengthAdjust="spacingAndGlyphs">⌧</tspan><tspan x="522.3" y="273.5" textLength="35.4" lengthAdjust="spacingAndGlyphs">cle</tspan></text>
<text x="801.2" y="272.9" font-size="27.5" text-anchor="middle" textLength="251.1" lengthAdjust="spacingAndGlyphs" fill="#111">Ordered structures</text>
<text x="253.6" y="507.3" font-size="27.5" text-anchor="middle" textLength="233.3" lengthAdjust="spacingAndGlyphs" fill="#111">Hollow structures</text>
<text x="576.0" y="502.9" font-size="27.5" text-anchor="middle" textLength="33.5" lengthAdjust="spacingAndGlyphs" fill="#111">0D</text>
<text x="818.2" y="507.3" font-size="27.5" text-anchor="middle" textLength="166.6" lengthAdjust="spacingAndGlyphs" fill="#111">1D assembly</text>
<text x="280.7" y="740.7" font-size="27.5" text-anchor="middle" textLength="167.3" lengthAdjust="spacingAndGlyphs" fill="#111">2D assembly</text>
<text x="749.7" y="738.7" font-size="27.5" text-anchor="middle" textLength="168.2" lengthAdjust="spacingAndGlyphs" fill="#111">3D assembly</text>
<defs>
<pattern id="pcF" patternUnits="userSpaceOnUse" x="110.4" y="130.9" width="42.8" height="42.8"><rect x="0.0" y="0.0" width="9.9" height="9.9" fill="#c4dfb3"/><rect x="0.0" y="-42.8" width="9.9" height="9.9" fill="#c4dfb3"/><rect x="-42.8" y="0.0" width="9.9" height="9.9" fill="#c4dfb3"/><rect x="-42.8" y="-42.8" width="9.9" height="9.9" fill="#c4dfb3"/><rect x="15.4" y="4.9" width="9.9" height="9.9" fill="#c4dfb3"/><rect x="15.4" y="-37.9" width="9.9" height="9.9" fill="#c4dfb3"/><rect x="-27.4" y="4.9" width="9.9" height="9.9" fill="#c4dfb3"/><rect x="-27.4" y="-37.9" width="9.9" height="9.9" fill="#c4dfb3"/><rect x="25.8" y="37.3" width="9.9" height="9.9" fill="#c4dfb3"/><rect x="25.8" y="-5.5" width="9.9" height="9.9" fill="#c4dfb3"/><rect x="-17.0" y="37.3" width="9.9" height="9.9" fill="#c4dfb3"/><rect x="-17.0" y="-5.5" width="9.9" height="9.9" fill="#c4dfb3"/><rect x="37.3" y="15.9" width="9.9" height="9.9" fill="#c4dfb3"/><rect x="37.3" y="-26.9" width="9.9" height="9.9" fill="#c4dfb3"/><rect x="-5.5" y="15.9" width="9.9" height="9.9" fill="#c4dfb3"/><rect x="-5.5" y="-26.9" width="9.9" height="9.9" fill="#c4dfb3"/><rect x="20.8" y="21.4" width="9.9" height="9.9" fill="#c4dfb3"/><rect x="20.8" y="-21.4" width="9.9" height="9.9" fill="#c4dfb3"/><rect x="-22.0" y="21.4" width="9.9" height="9.9" fill="#c4dfb3"/><rect x="-22.0" y="-21.4" width="9.9" height="9.9" fill="#c4dfb3"/><rect x="4.9" y="26.3" width="9.9" height="9.9" fill="#c4dfb3"/><rect x="4.9" y="-16.5" width="9.9" height="9.9" fill="#c4dfb3"/><rect x="-37.9" y="26.3" width="9.9" height="9.9" fill="#c4dfb3"/><rect x="-37.9" y="-16.5" width="9.9" height="9.9" fill="#c4dfb3"/></pattern>
<pattern id="pcT" patternUnits="userSpaceOnUse" x="110.4" y="130.9" width="42.8" height="42.8"><rect x="0.0" y="0.0" width="9.9" height="9.9" fill="#d2e6c6"/><rect x="0.0" y="-42.8" width="9.9" height="9.9" fill="#d2e6c6"/><rect x="-42.8" y="0.0" width="9.9" height="9.9" fill="#d2e6c6"/><rect x="-42.8" y="-42.8" width="9.9" height="9.9" fill="#d2e6c6"/><rect x="15.4" y="4.9" width="9.9" height="9.9" fill="#d2e6c6"/><rect x="15.4" y="-37.9" width="9.9" height="9.9" fill="#d2e6c6"/><rect x="-27.4" y="4.9" width="9.9" height="9.9" fill="#d2e6c6"/><rect x="-27.4" y="-37.9" width="9.9" height="9.9" fill="#d2e6c6"/><rect x="25.8" y="37.3" width="9.9" height="9.9" fill="#d2e6c6"/><rect x="25.8" y="-5.5" width="9.9" height="9.9" fill="#d2e6c6"/><rect x="-17.0" y="37.3" width="9.9" height="9.9" fill="#d2e6c6"/><rect x="-17.0" y="-5.5" width="9.9" height="9.9" fill="#d2e6c6"/><rect x="37.3" y="15.9" width="9.9" height="9.9" fill="#d2e6c6"/><rect x="37.3" y="-26.9" width="9.9" height="9.9" fill="#d2e6c6"/><rect x="-5.5" y="15.9" width="9.9" height="9.9" fill="#d2e6c6"/><rect x="-5.5" y="-26.9" width="9.9" height="9.9" fill="#d2e6c6"/><rect x="20.8" y="21.4" width="9.9" height="9.9" fill="#d2e6c6"/><rect x="20.8" y="-21.4" width="9.9" height="9.9" fill="#d2e6c6"/><rect x="-22.0" y="21.4" width="9.9" height="9.9" fill="#d2e6c6"/><rect x="-22.0" y="-21.4" width="9.9" height="9.9" fill="#d2e6c6"/><rect x="4.9" y="26.3" width="9.9" height="9.9" fill="#d2e6c6"/><rect x="4.9" y="-16.5" width="9.9" height="9.9" fill="#d2e6c6"/><rect x="-37.9" y="26.3" width="9.9" height="9.9" fill="#d2e6c6"/><rect x="-37.9" y="-16.5" width="9.9" height="9.9" fill="#d2e6c6"/></pattern>
<pattern id="pcR" patternUnits="userSpaceOnUse" x="110.4" y="130.9" width="42.8" height="42.8"><rect width="42.8" height="42.8" fill="#cfcfcf"/><rect x="0.0" y="0.0" width="9.9" height="9.9" fill="#9db48f"/><rect x="0.0" y="-42.8" width="9.9" height="9.9" fill="#9db48f"/><rect x="-42.8" y="0.0" width="9.9" height="9.9" fill="#9db48f"/><rect x="-42.8" y="-42.8" width="9.9" height="9.9" fill="#9db48f"/><rect x="15.4" y="4.9" width="9.9" height="9.9" fill="#9db48f"/><rect x="15.4" y="-37.9" width="9.9" height="9.9" fill="#9db48f"/><rect x="-27.4" y="4.9" width="9.9" height="9.9" fill="#9db48f"/><rect x="-27.4" y="-37.9" width="9.9" height="9.9" fill="#9db48f"/><rect x="25.8" y="37.3" width="9.9" height="9.9" fill="#9db48f"/><rect x="25.8" y="-5.5" width="9.9" height="9.9" fill="#9db48f"/><rect x="-17.0" y="37.3" width="9.9" height="9.9" fill="#9db48f"/><rect x="-17.0" y="-5.5" width="9.9" height="9.9" fill="#9db48f"/><rect x="37.3" y="15.9" width="9.9" height="9.9" fill="#9db48f"/><rect x="37.3" y="-26.9" width="9.9" height="9.9" fill="#9db48f"/><rect x="-5.5" y="15.9" width="9.9" height="9.9" fill="#9db48f"/><rect x="-5.5" y="-26.9" width="9.9" height="9.9" fill="#9db48f"/><rect x="20.8" y="21.4" width="9.9" height="9.9" fill="#9db48f"/><rect x="20.8" y="-21.4" width="9.9" height="9.9" fill="#9db48f"/><rect x="-22.0" y="21.4" width="9.9" height="9.9" fill="#9db48f"/><rect x="-22.0" y="-21.4" width="9.9" height="9.9" fill="#9db48f"/><rect x="4.9" y="26.3" width="9.9" height="9.9" fill="#9db48f"/><rect x="4.9" y="-16.5" width="9.9" height="9.9" fill="#9db48f"/><rect x="-37.9" y="26.3" width="9.9" height="9.9" fill="#9db48f"/><rect x="-37.9" y="-16.5" width="9.9" height="9.9" fill="#9db48f"/></pattern>
<pattern id="chk" patternUnits="userSpaceOnUse" width="8" height="8"><rect width="8" height="8" fill="#ffffff"/><rect width="4" height="4" fill="#cfe5c0"/><rect x="4" y="4" width="4" height="4" fill="#cfe5c0"/></pattern>
<pattern id="latF" patternUnits="userSpaceOnUse" x="388.3" y="154.3" width="42.4" height="42.4"><rect x="-2.76" y="-2.76" width="5.51" height="5.51" fill="#7fc447"/><rect x="-2.76" y="39.64" width="5.51" height="5.51" fill="#7fc447"/><rect x="39.64" y="-2.76" width="5.51" height="5.51" fill="#7fc447"/><rect x="39.64" y="39.64" width="5.51" height="5.51" fill="#7fc447"/><rect x="-2.76" y="39.64" width="5.51" height="5.51" fill="#7fc447"/><rect x="39.64" y="39.64" width="5.51" height="5.51" fill="#7fc447"/><rect x="2.54" y="2.54" width="5.51" height="5.51" fill="#7fc447"/><rect x="2.54" y="34.34" width="5.51" height="5.51" fill="#7fc447"/><rect x="7.84" y="7.84" width="5.51" height="5.51" fill="#7fc447"/><rect x="7.84" y="29.04" width="5.51" height="5.51" fill="#7fc447"/><rect x="13.14" y="13.14" width="5.51" height="5.51" fill="#7fc447"/><rect x="13.14" y="23.74" width="5.51" height="5.51" fill="#7fc447"/><rect x="18.44" y="18.44" width="5.51" height="5.51" fill="#7fc447"/><rect x="18.44" y="18.44" width="5.51" height="5.51" fill="#7fc447"/><rect x="23.74" y="23.74" width="5.51" height="5.51" fill="#7fc447"/><rect x="23.74" y="13.14" width="5.51" height="5.51" fill="#7fc447"/><rect x="29.04" y="29.04" width="5.51" height="5.51" fill="#7fc447"/><rect x="29.04" y="7.84" width="5.51" height="5.51" fill="#7fc447"/><rect x="34.34" y="34.34" width="5.51" height="5.51" fill="#7fc447"/><rect x="34.34" y="2.54" width="5.51" height="5.51" fill="#7fc447"/></pattern>
<pattern id="latT" patternUnits="userSpaceOnUse" x="388.3" y="154.3" width="42.4" height="42.4"><rect x="-2.76" y="-2.76" width="5.51" height="5.51" fill="#9bd26f"/><rect x="-2.76" y="39.64" width="5.51" height="5.51" fill="#9bd26f"/><rect x="39.64" y="-2.76" width="5.51" height="5.51" fill="#9bd26f"/><rect x="39.64" y="39.64" width="5.51" height="5.51" fill="#9bd26f"/><rect x="-2.76" y="39.64" width="5.51" height="5.51" fill="#9bd26f"/><rect x="39.64" y="39.64" width="5.51" height="5.51" fill="#9bd26f"/><rect x="2.54" y="2.54" width="5.51" height="5.51" fill="#9bd26f"/><rect x="2.54" y="34.34" width="5.51" height="5.51" fill="#9bd26f"/><rect x="7.84" y="7.84" width="5.51" height="5.51" fill="#9bd26f"/><rect x="7.84" y="29.04" width="5.51" height="5.51" fill="#9bd26f"/><rect x="13.14" y="13.14" width="5.51" height="5.51" fill="#9bd26f"/><rect x="13.14" y="23.74" width="5.51" height="5.51" fill="#9bd26f"/><rect x="18.44" y="18.44" width="5.51" height="5.51" fill="#9bd26f"/><rect x="18.44" y="18.44" width="5.51" height="5.51" fill="#9bd26f"/><rect x="23.74" y="23.74" width="5.51" height="5.51" fill="#9bd26f"/><rect x="23.74" y="13.14" width="5.51" height="5.51" fill="#9bd26f"/><rect x="29.04" y="29.04" width="5.51" height="5.51" fill="#9bd26f"/><rect x="29.04" y="7.84" width="5.51" height="5.51" fill="#9bd26f"/><rect x="34.34" y="34.34" width="5.51" height="5.51" fill="#9bd26f"/><rect x="34.34" y="2.54" width="5.51" height="5.51" fill="#9bd26f"/></pattern>
<pattern id="latS" patternUnits="userSpaceOnUse" x="516.3" y="105.4" width="30.2" height="30.2"><rect x="-1.84" y="-1.84" width="3.68" height="3.68" fill="#7fc447"/><rect x="-1.84" y="28.36" width="3.68" height="3.68" fill="#7fc447"/><rect x="28.36" y="-1.84" width="3.68" height="3.68" fill="#7fc447"/><rect x="28.36" y="28.36" width="3.68" height="3.68" fill="#7fc447"/><rect x="-1.84" y="28.36" width="3.68" height="3.68" fill="#7fc447"/><rect x="28.36" y="28.36" width="3.68" height="3.68" fill="#7fc447"/><rect x="1.93" y="1.93" width="3.68" height="3.68" fill="#7fc447"/><rect x="1.93" y="24.58" width="3.68" height="3.68" fill="#7fc447"/><rect x="5.71" y="5.71" width="3.68" height="3.68" fill="#7fc447"/><rect x="5.71" y="20.81" width="3.68" height="3.68" fill="#7fc447"/><rect x="9.48" y="9.48" width="3.68" height="3.68" fill="#7fc447"/><rect x="9.48" y="17.03" width="3.68" height="3.68" fill="#7fc447"/><rect x="13.26" y="13.26" width="3.68" height="3.68" fill="#7fc447"/><rect x="13.26" y="13.26" width="3.68" height="3.68" fill="#7fc447"/><rect x="17.03" y="17.03" width="3.68" height="3.68" fill="#7fc447"/><rect x="17.03" y="9.48" width="3.68" height="3.68" fill="#7fc447"/><rect x="20.81" y="20.81" width="3.68" height="3.68" fill="#7fc447"/><rect x="20.81" y="5.71" width="3.68" height="3.68" fill="#7fc447"/><rect x="24.58" y="24.58" width="3.68" height="3.68" fill="#7fc447"/><rect x="24.58" y="1.93" width="3.68" height="3.68" fill="#7fc447"/></pattern>
<pattern id="latR" patternUnits="userSpaceOnUse" x="388.3" y="154.3" width="42.4" height="42.4"><rect x="-2.76" y="-2.76" width="5.51" height="5.51" fill="#6aa83a"/><rect x="-2.76" y="39.64" width="5.51" height="5.51" fill="#6aa83a"/><rect x="39.64" y="-2.76" width="5.51" height="5.51" fill="#6aa83a"/><rect x="39.64" y="39.64" width="5.51" height="5.51" fill="#6aa83a"/><rect x="-2.76" y="39.64" width="5.51" height="5.51" fill="#6aa83a"/><rect x="39.64" y="39.64" width="5.51" height="5.51" fill="#6aa83a"/><rect x="2.54" y="2.54" width="5.51" height="5.51" fill="#6aa83a"/><rect x="2.54" y="34.34" width="5.51" height="5.51" fill="#6aa83a"/><rect x="7.84" y="7.84" width="5.51" height="5.51" fill="#6aa83a"/><rect x="7.84" y="29.04" width="5.51" height="5.51" fill="#6aa83a"/><rect x="13.14" y="13.14" width="5.51" height="5.51" fill="#6aa83a"/><rect x="13.14" y="23.74" width="5.51" height="5.51" fill="#6aa83a"/><rect x="18.44" y="18.44" width="5.51" height="5.51" fill="#6aa83a"/><rect x="18.44" y="18.44" width="5.51" height="5.51" fill="#6aa83a"/><rect x="23.74" y="23.74" width="5.51" height="5.51" fill="#6aa83a"/><rect x="23.74" y="13.14" width="5.51" height="5.51" fill="#6aa83a"/><rect x="29.04" y="29.04" width="5.51" height="5.51" fill="#6aa83a"/><rect x="29.04" y="7.84" width="5.51" height="5.51" fill="#6aa83a"/><rect x="34.34" y="34.34" width="5.51" height="5.51" fill="#6aa83a"/><rect x="34.34" y="2.54" width="5.51" height="5.51" fill="#6aa83a"/></pattern>
<radialGradient id="sphShade" cx="0.43" cy="0.37" r="0.66"><stop offset="0" stop-color="#000" stop-opacity="0"/><stop offset="0.5" stop-color="#000" stop-opacity="0.04"/><stop offset="0.75" stop-color="#000" stop-opacity="0.25"/><stop offset="0.92" stop-color="#000" stop-opacity="0.5"/><stop offset="1" stop-color="#000" stop-opacity="0.68"/></radialGradient>
<radialGradient id="mofSph" cx="0.5" cy="0.42" r="0.58" fx="0.52" fy="0.4"><stop offset="0" stop-color="#ffffff"/><stop offset="0.45" stop-color="#f4f4f4"/><stop offset="0.75" stop-color="#c8c8c8"/><stop offset="0.92" stop-color="#8a8a8a"/><stop offset="1" stop-color="#5a5a5a"/></radialGradient>
<radialGradient id="hSph" cx="0.44" cy="0.36" r="0.66" fx="0.44" fy="0.33"><stop offset="0" stop-color="#f4fdea"/><stop offset="0.18" stop-color="#d4e5c4"/><stop offset="0.5" stop-color="#adbf9b"/><stop offset="0.8" stop-color="#8e9e7d"/><stop offset="1" stop-color="#6f7e62"/></radialGradient>
<linearGradient id="tubeG" x1="0" y1="0" x2="1" y2="0"><stop offset="0" stop-color="#7b8c6c"/><stop offset="0.2" stop-color="#b3c8a0"/><stop offset="0.45" stop-color="#f2ffe6"/><stop offset="0.6" stop-color="#c9dcb6"/><stop offset="0.85" stop-color="#8d9f7c"/><stop offset="1" stop-color="#55624a"/></linearGradient>
<pattern id="dots" patternUnits="userSpaceOnUse" x="761.9" y="401.2" width="21" height="21"><rect x="0" y="0" width="5" height="5" fill="#000"/><rect x="10.5" y="10.5" width="5" height="5" fill="#000"/></pattern>
</defs>
<polygon points="139.4,85.4 254.6,85.4 220.6,121.1 104.3,121.1" fill="url(#pcT)"/>
<polygon points="104.3,121.1 220.6,121.1 220.0,225.3 104.3,225.3" fill="url(#pcF)"/>
<polygon points="220.6,121.1 254.6,85.4 255.1,190.2 220.0,225.3" fill="url(#pcR)"/>
<g fill="none" stroke="#0b2266" stroke-width="3.3" stroke-linejoin="round" stroke-linecap="round"><path d="M104.3,121.1 C120,104 128,98 139.4,85.4 C170,82 200,84 215,86 C232,89 245,84 254.6,85.4 C256,120 252,160 255.1,190.2 C243,200 230,212 220,225.3 C190,227 170,222 150,222 C130,222 115,226 104.3,225.3 C101,190 107,160 104.3,121.1 Z"/><path d="M104.3,121.1 C130,117 150,122 170,125 C190,128 205,122 220.6,121.1 C219,160 216,190 220,225.3"/><path d="M220.6,121.1 C232,108 242,98 254.6,85.4"/></g>
<polygon points="379.6,104.4 448.6,104.7 428.9,126.4 360.5,125.7" fill="#ffffff"/>
<polygon points="379.6,104.4 448.6,104.7 428.9,126.4 360.5,125.7" fill="url(#latT)"/>
<polygon points="360.5,125.7 428.9,126.4 428.2,186.8 360.2,186.2" fill="url(#latF)"/>
<polygon points="428.9,126.4 448.6,104.7 448.6,165.8 428.2,186.8" fill="#cbcbcb"/>
<polygon points="428.9,126.4 448.6,104.7 448.6,165.8 428.2,186.8" fill="url(#latR)"/>
<g fill="none" stroke="#0b2266" stroke-width="2.4" stroke-linejoin="round"><path d="M360.5,125.7 L379.6,104.4 C400,102 420,108 448.6,104.7 C450,125 447,150 448.6,165.8 L428.2,186.8 C405,187 380,185 360.2,186.2 C359,165 362,145 360.5,125.7 Z"/><path d="M360.5,125.7 C385,124 405,130 428.9,126.4 L448.6,104.7"/><path d="M428.9,126.4 C426,150 430,170 428.2,186.8"/></g>
<circle cx="520.4" cy="140.6" r="52.5" fill="#ffffff"/>
<circle cx="520.4" cy="140.6" r="52.5" fill="url(#latS)"/>
<circle cx="520.4" cy="140.6" r="52.5" fill="url(#sphShade)"/>
<circle cx="520.4" cy="140.6" r="52.5" fill="none" stroke="#0b2266" stroke-width="1.8"/>
<circle cx="776.6" cy="100.2" r="19.8" fill="url(#chk)" stroke="#0b2266" stroke-width="3.8"/>
<circle cx="818.3" cy="100.2" r="19.8" fill="url(#chk)" stroke="#0b2266" stroke-width="3.8"/>
<circle cx="756.9" cy="127.2" r="19.8" fill="url(#chk)" stroke="#0b2266" stroke-width="3.8"/>
<circle cx="798.7" cy="128.4" r="19.8" fill="url(#chk)" stroke="#0b2266" stroke-width="3.8"/>
<circle cx="840.4" cy="127.2" r="19.8" fill="url(#chk)" stroke="#0b2266" stroke-width="3.8"/>
<circle cx="737.2" cy="157.9" r="19.8" fill="url(#chk)" stroke="#0b2266" stroke-width="3.8"/>
<circle cx="779.0" cy="156.7" r="19.8" fill="url(#chk)" stroke="#0b2266" stroke-width="3.8"/>
<circle cx="819.6" cy="156.7" r="19.8" fill="url(#chk)" stroke="#0b2266" stroke-width="3.8"/>
<circle cx="861.3" cy="157.9" r="19.8" fill="url(#chk)" stroke="#0b2266" stroke-width="3.8"/>
<circle cx="759.4" cy="187.4" r="19.8" fill="url(#chk)" stroke="#0b2266" stroke-width="3.8"/>
<circle cx="801.1" cy="182.5" r="19.8" fill="url(#chk)" stroke="#0b2266" stroke-width="3.8"/>
<circle cx="844.1" cy="187.4" r="19.8" fill="url(#chk)" stroke="#0b2266" stroke-width="3.8"/>
<circle cx="783.9" cy="212.0" r="19.8" fill="url(#chk)" stroke="#0b2266" stroke-width="3.8"/>
<circle cx="823.2" cy="213.2" r="19.8" fill="url(#chk)" stroke="#0b2266" stroke-width="3.8"/>
<g transform="translate(86.1,438.1) rotate(-48.71)">
<linearGradient id="tubeG2" x1="0" y1="-25.0" x2="0" y2="25.0" gradientUnits="userSpaceOnUse"><stop offset="0" stop-color="#6c7b5f"/><stop offset="0.2" stop-color="#a6bb94"/><stop offset="0.42" stop-color="#f4ffe9"/><stop offset="0.6" stop-color="#c9ddb7"/><stop offset="0.85" stop-color="#8a9c79"/><stop offset="1" stop-color="#4a5641"/></linearGradient>
<linearGradient id="tubeIn" x1="0" y1="-25.0" x2="0" y2="25.0" gradientUnits="userSpaceOnUse"><stop offset="0.2" stop-color="#3f4a38"/><stop offset="0.45" stop-color="#9fb58e"/><stop offset="0.7" stop-color="#f4ffe9"/><stop offset="0.85" stop-color="#a9bf96"/></linearGradient>
<path d="M0,-25.0 L122.4,-25.0 L122.4,25.0 L0,25.0 A14.0,25.0 0 0 1 0,-25.0 Z" fill="url(#tubeG2)"/>
<ellipse cx="122.4" cy="0" rx="14.0" ry="25.0" fill="#3b3b3b"/>
<ellipse cx="122.4" cy="0" rx="10.4" ry="20.4" fill="none" stroke="#dfe9d8" stroke-width="1.1"/>
<ellipse cx="123.0" cy="-0.5" rx="7.7" ry="15.2" fill="url(#tubeIn)"/>
</g>
<circle cx="262.9" cy="389.3" r="52.8" fill="url(#hSph)" stroke="#0b2266" stroke-width="2.6"/>
<path d="M250,372 C256,362 266,364 266,372 C266,380 256,386 250,380 Z" fill="#ffffff" opacity="0.85"/>
<g stroke="#0b2266" stroke-width="2.4" stroke-linejoin="round"><polygon points="390.3,340.7 393.0,358.1 353.4,410.6 350.2,393.7" fill="#ecf4e6"/><polygon points="390.3,340.7 440.2,378.1 441.6,395.0 393.0,358.1" fill="#d9e0d0"/><path d="M393.0,358.1 C405,362 420,375 441.6,395.0 L401.9,449.0 L353.4,410.6 C365,392 385,378 393.0,358.1 Z" fill="#e5efdd"/></g>
<g stroke="#0b2266" stroke-width="2.6" stroke-linejoin="round"><polygon points="561.4,375.7 587.7,375.7 578.9,385.1 553.2,384.9" fill="#d6e8c4"/><polygon points="578.9,385.1 587.7,375.7 587.7,405.7 578.9,413.9" fill="#a0b590"/><polygon points="553.2,384.9 578.9,385.1 578.9,413.9 553.2,413.9" fill="#c6dfb2"/></g>
<clipPath id="rA"><rect transform="translate(781.6,358.5) rotate(30.91)" x="0" y="-7.75" width="124.0" height="15.5" rx="2.5"/></clipPath><rect transform="translate(781.6,358.5) rotate(30.91)" x="0" y="-7.75" width="124.0" height="15.5" rx="2.5" fill="#c6e0b4"/><rect x="740" y="340" width="180" height="100" fill="url(#dots)" clip-path="url(#rA)"/><rect transform="translate(781.6,358.5) rotate(30.91)" x="0" y="-7.75" width="124.0" height="15.5" rx="2.5" fill="none" stroke="#0b2266" stroke-width="2.8"/><ellipse transform="translate(781.6,358.5) rotate(30.91)" cx="3" cy="0" rx="2.4" ry="6.25" fill="none" stroke="#0b2266" stroke-width="0.9"/>
<clipPath id="rB"><rect transform="translate(757.1,406.9) rotate(-11.14)" x="0" y="-7.75" width="147.5" height="15.5" rx="2.5"/></clipPath><rect transform="translate(757.1,406.9) rotate(-11.14)" x="0" y="-7.75" width="147.5" height="15.5" rx="2.5" fill="#c6e0b4"/><rect x="740" y="340" width="180" height="100" fill="url(#dots)" clip-path="url(#rB)"/><rect transform="translate(757.1,406.9) rotate(-11.14)" x="0" y="-7.75" width="147.5" height="15.5" rx="2.5" fill="none" stroke="#0b2266" stroke-width="2.8"/><ellipse transform="translate(757.1,406.9) rotate(-11.14)" cx="3" cy="0" rx="2.4" ry="6.25" fill="none" stroke="#0b2266" stroke-width="0.9"/>
<polygon points="120.8,580.8 199.8,562.3 206.3,567.8 158.3,636.8 77.8,654.8 71.3,649.3" fill="#c6e0b4" stroke="#0b2266" stroke-width="5.0" stroke-linejoin="round"/><polygon points="127.3,586.3 206.3,567.8 158.3,636.8 77.8,654.8" fill="#a0b592" stroke="#0b2266" stroke-width="3.75" stroke-linejoin="round"/><line x1="127.3" y1="586.3" x2="120.8" y2="580.8" stroke="#0b2266" stroke-width="3.75"/>
<polygon points="134.9,594.9 213.9,576.4 220.4,581.9 172.4,650.9 91.9,668.9 85.4,663.4" fill="#c6e0b4" stroke="#0b2266" stroke-width="5.0" stroke-linejoin="round"/><polygon points="141.4,600.4 220.4,581.9 172.4,650.9 91.9,668.9" fill="#a0b592" stroke="#0b2266" stroke-width="3.75" stroke-linejoin="round"/><line x1="141.4" y1="600.4" x2="134.9" y2="594.9" stroke="#0b2266" stroke-width="3.75"/>
<polygon points="149.0,609.0 228.0,590.5 234.5,596.0 186.5,665.0 106.0,683.0 99.5,677.5" fill="#c6e0b4" stroke="#0b2266" stroke-width="5.0" stroke-linejoin="round"/><polygon points="155.5,614.5 234.5,596.0 186.5,665.0 106.0,683.0" fill="#a0b592" stroke="#0b2266" stroke-width="3.75" stroke-linejoin="round"/><line x1="155.5" y1="614.5" x2="149.0" y2="609.0" stroke="#0b2266" stroke-width="3.75"/>
<polygon points="310.8,561.0 328.2,545.2 331.2,563.3 336.4,564.5 335.2,585.5 316.6,592.4" fill="#a0b592" stroke="#0b2266" stroke-width="1.7" stroke-linejoin="round"/>
<polyline points="327.1,548.2 329.6,563.3" fill="none" stroke="#c6e0b4" stroke-width="2.4" stroke-linecap="round"/>
<polygon points="265.9,565.6 289.2,578.5 295.6,589.0 284.0,600.6 273.5,595.9" fill="#a0b592" stroke="#0b2266" stroke-width="1.7" stroke-linejoin="round"/>
<polygon points="251.3,593.6 279.3,598.3 284.0,609.9 270.0,625.1 264.1,614.6" fill="#a0b592" stroke="#0b2266" stroke-width="1.7" stroke-linejoin="round"/>
<polyline points="253.6,595.9 270.0,623.3" fill="none" stroke="#c6e0b4" stroke-width="2.4" stroke-linecap="round"/>
<polygon points="330.6,636.7 362.0,623.9 377.2,649.0 353.9,647.2" fill="#a0b592" stroke="#0b2266" stroke-width="1.7" stroke-linejoin="round"/>
<polyline points="334.1,640.2 374.9,649.6" fill="none" stroke="#c6e0b4" stroke-width="2.4" stroke-linecap="round"/>
<polygon points="334.1,639.1 351.6,644.9 361.5,690.9 336.4,677.5" fill="#a0b592" stroke="#0b2266" stroke-width="1.7" stroke-linejoin="round"/>
<polyline points="351.6,648.4 360.3,688.0" fill="none" stroke="#c6e0b4" stroke-width="2.4" stroke-linecap="round"/>
<polygon points="273.5,655.4 270.0,678.7 284.0,676.4 284.0,701.4 300.3,679.9 297.9,656.5" fill="#a0b592" stroke="#0b2266" stroke-width="1.7" stroke-linejoin="round"/>
<polyline points="272.3,657.7 270.0,676.4" fill="none" stroke="#c6e0b4" stroke-width="2.4" stroke-linecap="round"/>
<polygon points="295.6,649.6 309.6,686.9 316.6,693.8 325.9,682.2 336.4,692.7 337.6,655.4 330.6,636.7" fill="#a0b592" stroke="#0b2266" stroke-width="1.7" stroke-linejoin="round"/>
<polygon points="316.6,601.8 341.1,583.1 377.8,587.8 359.7,602.9 323.6,609.9" fill="#a0b592" stroke="#0b2266" stroke-width="1.7" stroke-linejoin="round"/>
<polyline points="342.2,584.9 376.0,589.0" fill="none" stroke="#c6e0b4" stroke-width="2.4" stroke-linecap="round"/>
<polygon points="296.8,552.8 310.8,561.0 316.6,569.1 309.6,575.0 300.3,569.1" fill="#a0b592" stroke="#0b2266" stroke-width="1.7" stroke-linejoin="round"/>
<polyline points="298.5,555.2 309.6,563.3 315.4,570.3" fill="none" stroke="#c6e0b4" stroke-width="2.4" stroke-linecap="round"/>
<polygon points="279.3,601.8 299.1,564.5 304.9,569.1 318.9,608.8 304.9,621.6 285.1,621.6" fill="#a0b592" stroke="#0b2266" stroke-width="1.7" stroke-linejoin="round"/>
<polyline points="281.0,601.2 298.5,567.4" fill="none" stroke="#c6e0b4" stroke-width="2.4" stroke-linecap="round"/>
<polygon points="242.0,640.2 342.2,601.8 377.2,613.4 357.4,625.1 279.3,653.6 242.0,642.6" fill="#a0b592" stroke="#0b2266" stroke-width="1.7" stroke-linejoin="round"/>
<polyline points="244.3,639.7 342.2,603.9 376.0,614.6" fill="none" stroke="#c6e0b4" stroke-width="2.4" stroke-linecap="round"/>
<polygon points="294.4,649.6 300.3,647.2 310.8,671.7 316.6,693.8 309.6,686.9" fill="#a0b592" stroke="#0b2266" stroke-width="1.5" stroke-linejoin="round"/>
<polyline points="296.8,649.0 309.6,685.7" fill="none" stroke="#c6e0b4" stroke-width="2.4" stroke-linecap="round"/>
<line x1="465.8" y1="560.9" x2="480.4" y2="575.3" stroke="#0b2266" stroke-width="9.6" stroke-linecap="round"/>
<line x1="456.5" y1="574.4" x2="473.6" y2="585.7" stroke="#0b2266" stroke-width="9.6" stroke-linecap="round"/>
<line x1="442.1" y1="600.1" x2="458.4" y2="609.2" stroke="#0b2266" stroke-width="9.6" stroke-linecap="round"/>
<line x1="421.4" y1="620.8" x2="445.2" y2="629.4" stroke="#0b2266" stroke-width="9.6" stroke-linecap="round"/>
<line x1="412.4" y1="639.1" x2="429.3" y2="654.0" stroke="#0b2266" stroke-width="9.6" stroke-linecap="round"/>
<line x1="402.0" y1="654.7" x2="422.8" y2="664.0" stroke="#0b2266" stroke-width="9.6" stroke-linecap="round"/>
<line x1="393.8" y1="669.0" x2="413.2" y2="678.8" stroke="#0b2266" stroke-width="9.6" stroke-linecap="round"/>
<line x1="497.5" y1="593.3" x2="481.8" y2="573.1" stroke="#0b2266" stroke-width="9.6" stroke-linecap="round"/>
<line x1="480.4" y1="616.6" x2="464.1" y2="600.3" stroke="#0b2266" stroke-width="9.6" stroke-linecap="round"/>
<line x1="477.5" y1="631.0" x2="455.6" y2="613.5" stroke="#0b2266" stroke-width="9.6" stroke-linecap="round"/>
<line x1="460.9" y1="646.3" x2="443.9" y2="631.5" stroke="#0b2266" stroke-width="9.6" stroke-linecap="round"/>
<line x1="454.0" y1="661.8" x2="432.9" y2="648.4" stroke="#0b2266" stroke-width="9.6" stroke-linecap="round"/>
<line x1="443.6" y1="669.8" x2="425.1" y2="660.5" stroke="#0b2266" stroke-width="9.6" stroke-linecap="round"/>
<line x1="433.1" y1="689.8" x2="418.2" y2="671.1" stroke="#0b2266" stroke-width="9.6" stroke-linecap="round"/>
<line x1="465.8" y1="560.9" x2="480.4" y2="575.3" stroke="#c6e0b4" stroke-width="3.8" stroke-linecap="butt"/>
<line x1="456.5" y1="574.4" x2="473.6" y2="585.7" stroke="#c6e0b4" stroke-width="3.8" stroke-linecap="butt"/>
<line x1="442.1" y1="600.1" x2="458.4" y2="609.2" stroke="#c6e0b4" stroke-width="3.8" stroke-linecap="butt"/>
<line x1="421.4" y1="620.8" x2="445.2" y2="629.4" stroke="#c6e0b4" stroke-width="3.8" stroke-linecap="butt"/>
<line x1="412.4" y1="639.1" x2="429.3" y2="654.0" stroke="#c6e0b4" stroke-width="3.8" stroke-linecap="butt"/>
<line x1="402.0" y1="654.7" x2="422.8" y2="664.0" stroke="#c6e0b4" stroke-width="3.8" stroke-linecap="butt"/>
<line x1="393.8" y1="669.0" x2="413.2" y2="678.8" stroke="#c6e0b4" stroke-width="3.8" stroke-linecap="butt"/>
<line x1="497.5" y1="593.3" x2="481.8" y2="573.1" stroke="#c6e0b4" stroke-width="3.8" stroke-linecap="butt"/>
<line x1="480.4" y1="616.6" x2="464.1" y2="600.3" stroke="#c6e0b4" stroke-width="3.8" stroke-linecap="butt"/>
<line x1="477.5" y1="631.0" x2="455.6" y2="613.5" stroke="#c6e0b4" stroke-width="3.8" stroke-linecap="butt"/>
<line x1="460.9" y1="646.3" x2="443.9" y2="631.5" stroke="#c6e0b4" stroke-width="3.8" stroke-linecap="butt"/>
<line x1="454.0" y1="661.8" x2="432.9" y2="648.4" stroke="#c6e0b4" stroke-width="3.8" stroke-linecap="butt"/>
<line x1="443.6" y1="669.8" x2="425.1" y2="660.5" stroke="#c6e0b4" stroke-width="3.8" stroke-linecap="butt"/>
<line x1="433.1" y1="689.8" x2="418.2" y2="671.1" stroke="#c6e0b4" stroke-width="3.8" stroke-linecap="butt"/>
<line x1="408.7" y1="685.7" x2="486.8" y2="565.4" stroke="#0b2266" stroke-width="13.5" stroke-linecap="round"/>
<line x1="409.6" y1="684.3" x2="485.9" y2="566.8" stroke="#c6e0b4" stroke-width="7.6" stroke-linecap="butt"/>
<ellipse cx="485.2" cy="568" rx="2.2" ry="3.6" transform="rotate(57 485.2 568)" fill="none" stroke="#0b2266" stroke-width="0.8"/>
<line x1="646.1" y1="567.6" x2="609.5" y2="674.8" stroke="#0b2266" stroke-width="2.8"/>
<line x1="663.6" y1="573.2" x2="627.9" y2="679.1" stroke="#0b2266" stroke-width="2.8"/>
<line x1="681.2" y1="578.8" x2="646.4" y2="683.5" stroke="#0b2266" stroke-width="2.8"/>
<line x1="698.8" y1="584.4" x2="664.8" y2="687.8" stroke="#0b2266" stroke-width="2.8"/>
<line x1="610.7" y1="604.4" x2="618.1" y2="606.6" stroke="#0b2266" stroke-width="4.5" stroke-linecap="butt"/>
<line x1="610.7" y1="604.4" x2="618.1" y2="606.6" stroke="#c6e0b4" stroke-width="1.8" stroke-linecap="butt"/>
<line x1="630.0" y1="610.1" x2="637.4" y2="612.3" stroke="#0b2266" stroke-width="4.5" stroke-linecap="butt"/>
<line x1="630.0" y1="610.1" x2="637.4" y2="612.3" stroke="#c6e0b4" stroke-width="1.8" stroke-linecap="butt"/>
<line x1="649.3" y1="615.8" x2="656.7" y2="617.9" stroke="#0b2266" stroke-width="4.5" stroke-linecap="butt"/>
<line x1="649.3" y1="615.8" x2="656.7" y2="617.9" stroke="#c6e0b4" stroke-width="1.8" stroke-linecap="butt"/>
<line x1="666.4" y1="620.8" x2="673.8" y2="623.0" stroke="#0b2266" stroke-width="4.5" stroke-linecap="butt"/>
<line x1="666.4" y1="620.8" x2="673.8" y2="623.0" stroke="#c6e0b4" stroke-width="1.8" stroke-linecap="butt"/>
<line x1="601.5" y1="630.9" x2="609.0" y2="632.9" stroke="#0b2266" stroke-width="4.5" stroke-linecap="butt"/>
<line x1="601.5" y1="630.9" x2="609.0" y2="632.9" stroke="#c6e0b4" stroke-width="1.8" stroke-linecap="butt"/>
<line x1="621.0" y1="636.2" x2="628.5" y2="638.2" stroke="#0b2266" stroke-width="4.5" stroke-linecap="butt"/>
<line x1="621.0" y1="636.2" x2="628.5" y2="638.2" stroke="#c6e0b4" stroke-width="1.8" stroke-linecap="butt"/>
<line x1="640.6" y1="641.5" x2="648.1" y2="643.5" stroke="#0b2266" stroke-width="4.5" stroke-linecap="butt"/>
<line x1="640.6" y1="641.5" x2="648.1" y2="643.5" stroke="#c6e0b4" stroke-width="1.8" stroke-linecap="butt"/>
<line x1="657.8" y1="646.2" x2="665.4" y2="648.2" stroke="#0b2266" stroke-width="4.5" stroke-linecap="butt"/>
<line x1="657.8" y1="646.2" x2="665.4" y2="648.2" stroke="#c6e0b4" stroke-width="1.8" stroke-linecap="butt"/>
<line x1="592.2" y1="657.3" x2="599.9" y2="659.2" stroke="#0b2266" stroke-width="4.5" stroke-linecap="butt"/>
<line x1="592.2" y1="657.3" x2="599.9" y2="659.2" stroke="#c6e0b4" stroke-width="1.8" stroke-linecap="butt"/>
<line x1="612.0" y1="662.2" x2="619.6" y2="664.1" stroke="#0b2266" stroke-width="4.5" stroke-linecap="butt"/>
<line x1="612.0" y1="662.2" x2="619.6" y2="664.1" stroke="#c6e0b4" stroke-width="1.8" stroke-linecap="butt"/>
<line x1="631.8" y1="667.2" x2="639.4" y2="669.1" stroke="#0b2266" stroke-width="4.5" stroke-linecap="butt"/>
<line x1="631.8" y1="667.2" x2="639.4" y2="669.1" stroke="#c6e0b4" stroke-width="1.8" stroke-linecap="butt"/>
<line x1="649.3" y1="671.6" x2="656.9" y2="673.5" stroke="#0b2266" stroke-width="4.5" stroke-linecap="butt"/>
<line x1="649.3" y1="671.6" x2="656.9" y2="673.5" stroke="#c6e0b4" stroke-width="1.8" stroke-linecap="butt"/>
<line x1="600.0" y1="620.0" x2="615.0" y2="600.0" stroke="#0b2266" stroke-width="1.6"/>
<line x1="626.0" y1="650.0" x2="640.0" y2="628.0" stroke="#0b2266" stroke-width="1.6"/>
<line x1="650.0" y1="610.0" x2="662.0" y2="592.0" stroke="#0b2266" stroke-width="1.6"/>
<line x1="672.0" y1="640.0" x2="684.0" y2="618.0" stroke="#0b2266" stroke-width="1.6"/>
<line x1="630.0" y1="577.0" x2="712.0" y2="556.0" stroke="#0b2266" stroke-width="4.2"/>
<line x1="655.0" y1="584.0" x2="737.0" y2="562.0" stroke="#0b2266" stroke-width="3.6"/>
<line x1="678.0" y1="590.0" x2="754.0" y2="568.0" stroke="#0b2266" stroke-width="4.2"/>
<line x1="702.0" y1="592.0" x2="764.0" y2="574.0" stroke="#0b2266" stroke-width="3.2"/>
<line x1="648.0" y1="575.0" x2="728.0" y2="554.0" stroke="#0b2266" stroke-width="7" stroke-linecap="butt"/>
<line x1="648.0" y1="575.0" x2="728.0" y2="554.0" stroke="#c6e0b4" stroke-width="4" stroke-linecap="butt"/>
<line x1="672.0" y1="583.0" x2="750.0" y2="563.0" stroke="#0b2266" stroke-width="6" stroke-linecap="butt"/>
<line x1="672.0" y1="583.0" x2="750.0" y2="563.0" stroke="#c6e0b4" stroke-width="3.2" stroke-linecap="butt"/>
<line x1="616.0" y1="568.0" x2="714.0" y2="545.8" stroke="#0b2266" stroke-width="8.5" stroke-linecap="butt"/>
<line x1="616.0" y1="568.0" x2="714.0" y2="545.8" stroke="#c6e0b4" stroke-width="5" stroke-linecap="butt"/>
<line x1="714.0" y1="545.8" x2="771.0" y2="570.0" stroke="#0b2266" stroke-width="9" stroke-linecap="butt"/>
<line x1="714.0" y1="545.8" x2="771.0" y2="570.0" stroke="#c6e0b4" stroke-width="5.6" stroke-linecap="butt"/>
<line x1="710.6" y1="593.1" x2="681.5" y2="683.5" stroke="#0b2266" stroke-width="2.6"/>
<line x1="731.6" y1="587.4" x2="704.6" y2="672.4" stroke="#0b2266" stroke-width="2.6"/>
<line x1="752.6" y1="581.7" x2="727.7" y2="661.3" stroke="#0b2266" stroke-width="2.6"/>
<line x1="697.7" y1="595.1" x2="667.5" y2="689.3" stroke="#0b2266" stroke-width="12" stroke-linecap="butt"/>
<line x1="697.7" y1="595.1" x2="667.5" y2="689.3" stroke="#c6e0b4" stroke-width="6.6" stroke-linecap="butt"/>
<line x1="719.5" y1="589.1" x2="691.5" y2="677.7" stroke="#0b2266" stroke-width="12" stroke-linecap="butt"/>
<line x1="719.5" y1="589.1" x2="691.5" y2="677.7" stroke="#c6e0b4" stroke-width="6.6" stroke-linecap="butt"/>
<line x1="740.5" y1="583.4" x2="714.6" y2="666.6" stroke="#0b2266" stroke-width="12" stroke-linecap="butt"/>
<line x1="740.5" y1="583.4" x2="714.6" y2="666.6" stroke="#c6e0b4" stroke-width="6.6" stroke-linecap="butt"/>
<line x1="761.5" y1="577.7" x2="737.7" y2="655.5" stroke="#0b2266" stroke-width="12" stroke-linecap="butt"/>
<line x1="761.5" y1="577.7" x2="737.7" y2="655.5" stroke="#c6e0b4" stroke-width="6.6" stroke-linecap="butt"/>
<line x1="580.0" y1="676.0" x2="654.0" y2="693.0" stroke="#0b2266" stroke-width="7.5" stroke-linecap="butt"/>
<line x1="580.0" y1="676.0" x2="654.0" y2="693.0" stroke="#c6e0b4" stroke-width="4" stroke-linecap="butt"/>
<line x1="656.0" y1="693.0" x2="748.0" y2="650.0" stroke="#0b2266" stroke-width="7.5" stroke-linecap="butt"/>
<line x1="656.0" y1="693.0" x2="748.0" y2="650.0" stroke="#c6e0b4" stroke-width="4" stroke-linecap="butt"/>
<line x1="618.1" y1="571.6" x2="581.0" y2="677.5" stroke="#0b2266" stroke-width="12" stroke-linecap="butt"/>
<line x1="618.1" y1="571.6" x2="581.0" y2="677.5" stroke="#c6e0b4" stroke-width="6.6" stroke-linecap="butt"/>
<line x1="636.4" y1="577.4" x2="600.2" y2="682.0" stroke="#0b2266" stroke-width="12" stroke-linecap="butt"/>
<line x1="636.4" y1="577.4" x2="600.2" y2="682.0" stroke="#c6e0b4" stroke-width="6.6" stroke-linecap="butt"/>
<line x1="653.9" y1="583.0" x2="618.7" y2="686.3" stroke="#0b2266" stroke-width="12" stroke-linecap="butt"/>
<line x1="653.9" y1="583.0" x2="618.7" y2="686.3" stroke="#c6e0b4" stroke-width="6.6" stroke-linecap="butt"/>
<line x1="671.5" y1="588.7" x2="637.1" y2="690.6" stroke="#0b2266" stroke-width="12" stroke-linecap="butt"/>
<line x1="671.5" y1="588.7" x2="637.1" y2="690.6" stroke="#c6e0b4" stroke-width="6.6" stroke-linecap="butt"/>
<line x1="687.6" y1="593.8" x2="656.4" y2="694.6" stroke="#0b2266" stroke-width="11" stroke-linecap="butt"/>
<line x1="687.6" y1="593.8" x2="656.4" y2="694.6" stroke="#c6e0b4" stroke-width="5.6" stroke-linecap="butt"/>
<line x1="614.4" y1="570.4" x2="687.6" y2="593.8" stroke="#0b2266" stroke-width="11" stroke-linecap="butt"/>
<line x1="614.4" y1="570.4" x2="687.6" y2="593.8" stroke="#c6e0b4" stroke-width="6" stroke-linecap="butt"/>
<line x1="687.6" y1="593.8" x2="774.0" y2="572.0" stroke="#0b2266" stroke-width="11" stroke-linecap="butt"/>
<line x1="687.6" y1="593.8" x2="774.0" y2="572.0" stroke="#c6e0b4" stroke-width="6" stroke-linecap="butt"/>
<polyline points="577.2,676.6 614.4,570.4 714.0,545.8 772.0,571.0 748.8,650.2 656.4,694.6 577.2,676.6" fill="none" stroke="#0b2266" stroke-width="4" stroke-linejoin="round"/>
<polygon points="789.6,575.8 881.6,538.8 890.6,542.8 865.6,627.8 774.6,664.8 765.6,660.8" fill="#c6e0b4" stroke="#0b2266" stroke-width="4.0" stroke-linejoin="round"/><polygon points="798.6,579.8 890.6,542.8 865.6,627.8 774.6,664.8" fill="#a0b592" stroke="#0b2266" stroke-width="3.00" stroke-linejoin="round"/><line x1="798.6" y1="579.8" x2="789.6" y2="575.8" stroke="#0b2266" stroke-width="3.00"/>
<line x1="780.8" y1="634.4" x2="805.4" y2="629.6" stroke="#0b2266" stroke-width="7.5" stroke-linecap="butt"/>
<line x1="780.8" y1="634.4" x2="805.4" y2="629.6" stroke="#c6e0b4" stroke-width="3.6" stroke-linecap="butt"/>
<line x1="770.6" y1="656.0" x2="797.0" y2="659.6" stroke="#0b2266" stroke-width="7.5" stroke-linecap="butt"/>
<line x1="770.6" y1="656.0" x2="797.0" y2="659.6" stroke="#c6e0b4" stroke-width="3.6" stroke-linecap="butt"/>
<line x1="798.2" y1="606.8" x2="813.8" y2="605.6" stroke="#0b2266" stroke-width="7.5" stroke-linecap="butt"/>
<line x1="798.2" y1="606.8" x2="813.8" y2="605.6" stroke="#c6e0b4" stroke-width="3.6" stroke-linecap="butt"/>
<line x1="810.2" y1="586.4" x2="827.0" y2="592.4" stroke="#0b2266" stroke-width="7.5" stroke-linecap="butt"/>
<line x1="810.2" y1="586.4" x2="827.0" y2="592.4" stroke="#c6e0b4" stroke-width="3.6" stroke-linecap="butt"/>
<line x1="854.6" y1="557.6" x2="881.0" y2="568.4" stroke="#0b2266" stroke-width="7.5" stroke-linecap="butt"/>
<line x1="854.6" y1="557.6" x2="881.0" y2="568.4" stroke="#c6e0b4" stroke-width="3.6" stroke-linecap="butt"/>
<polygon points="820.8,591.4 912.8,554.4 921.8,558.4 896.8,643.4 805.8,680.4 796.8,676.4" fill="#c6e0b4" stroke="#0b2266" stroke-width="4.0" stroke-linejoin="round"/><polygon points="829.8,595.4 921.8,558.4 896.8,643.4 805.8,680.4" fill="#a0b592" stroke="#0b2266" stroke-width="3.00" stroke-linejoin="round"/><line x1="829.8" y1="595.4" x2="820.8" y2="591.4" stroke="#0b2266" stroke-width="3.00"/>
<line x1="815.0" y1="653.6" x2="834.2" y2="648.8" stroke="#0b2266" stroke-width="7.5" stroke-linecap="butt"/>
<line x1="815.0" y1="653.6" x2="834.2" y2="648.8" stroke="#c6e0b4" stroke-width="3.6" stroke-linecap="butt"/>
<line x1="807.8" y1="675.2" x2="828.2" y2="672.8" stroke="#0b2266" stroke-width="7.5" stroke-linecap="butt"/>
<line x1="807.8" y1="675.2" x2="828.2" y2="672.8" stroke="#c6e0b4" stroke-width="3.6" stroke-linecap="butt"/>
<line x1="827.0" y1="629.6" x2="843.8" y2="626.0" stroke="#0b2266" stroke-width="7.5" stroke-linecap="butt"/>
<line x1="827.0" y1="629.6" x2="843.8" y2="626.0" stroke="#c6e0b4" stroke-width="3.6" stroke-linecap="butt"/>
<line x1="833.0" y1="617.6" x2="846.2" y2="618.8" stroke="#0b2266" stroke-width="7.5" stroke-linecap="butt"/>
<line x1="833.0" y1="617.6" x2="846.2" y2="618.8" stroke="#c6e0b4" stroke-width="3.6" stroke-linecap="butt"/>
<line x1="843.8" y1="596.0" x2="860.6" y2="602.0" stroke="#0b2266" stroke-width="7.5" stroke-linecap="butt"/>
<line x1="843.8" y1="596.0" x2="860.6" y2="602.0" stroke="#c6e0b4" stroke-width="3.6" stroke-linecap="butt"/>
<line x1="894.2" y1="574.4" x2="911.0" y2="579.2" stroke="#0b2266" stroke-width="7.5" stroke-linecap="butt"/>
<line x1="894.2" y1="574.4" x2="911.0" y2="579.2" stroke="#c6e0b4" stroke-width="3.6" stroke-linecap="butt"/>
<polygon points="852.0,607.0 944.0,570.0 953.0,574.0 928.0,659.0 837.0,696.0 828.0,692.0" fill="#c6e0b4" stroke="#0b2266" stroke-width="4.0" stroke-linejoin="round"/><polygon points="861.0,611.0 953.0,574.0 928.0,659.0 837.0,696.0" fill="#a0b592" stroke="#0b2266" stroke-width="3.00" stroke-linejoin="round"/><line x1="861.0" y1="611.0" x2="852.0" y2="607.0" stroke="#0b2266" stroke-width="3.00"/>
</svg>
</body></html>
